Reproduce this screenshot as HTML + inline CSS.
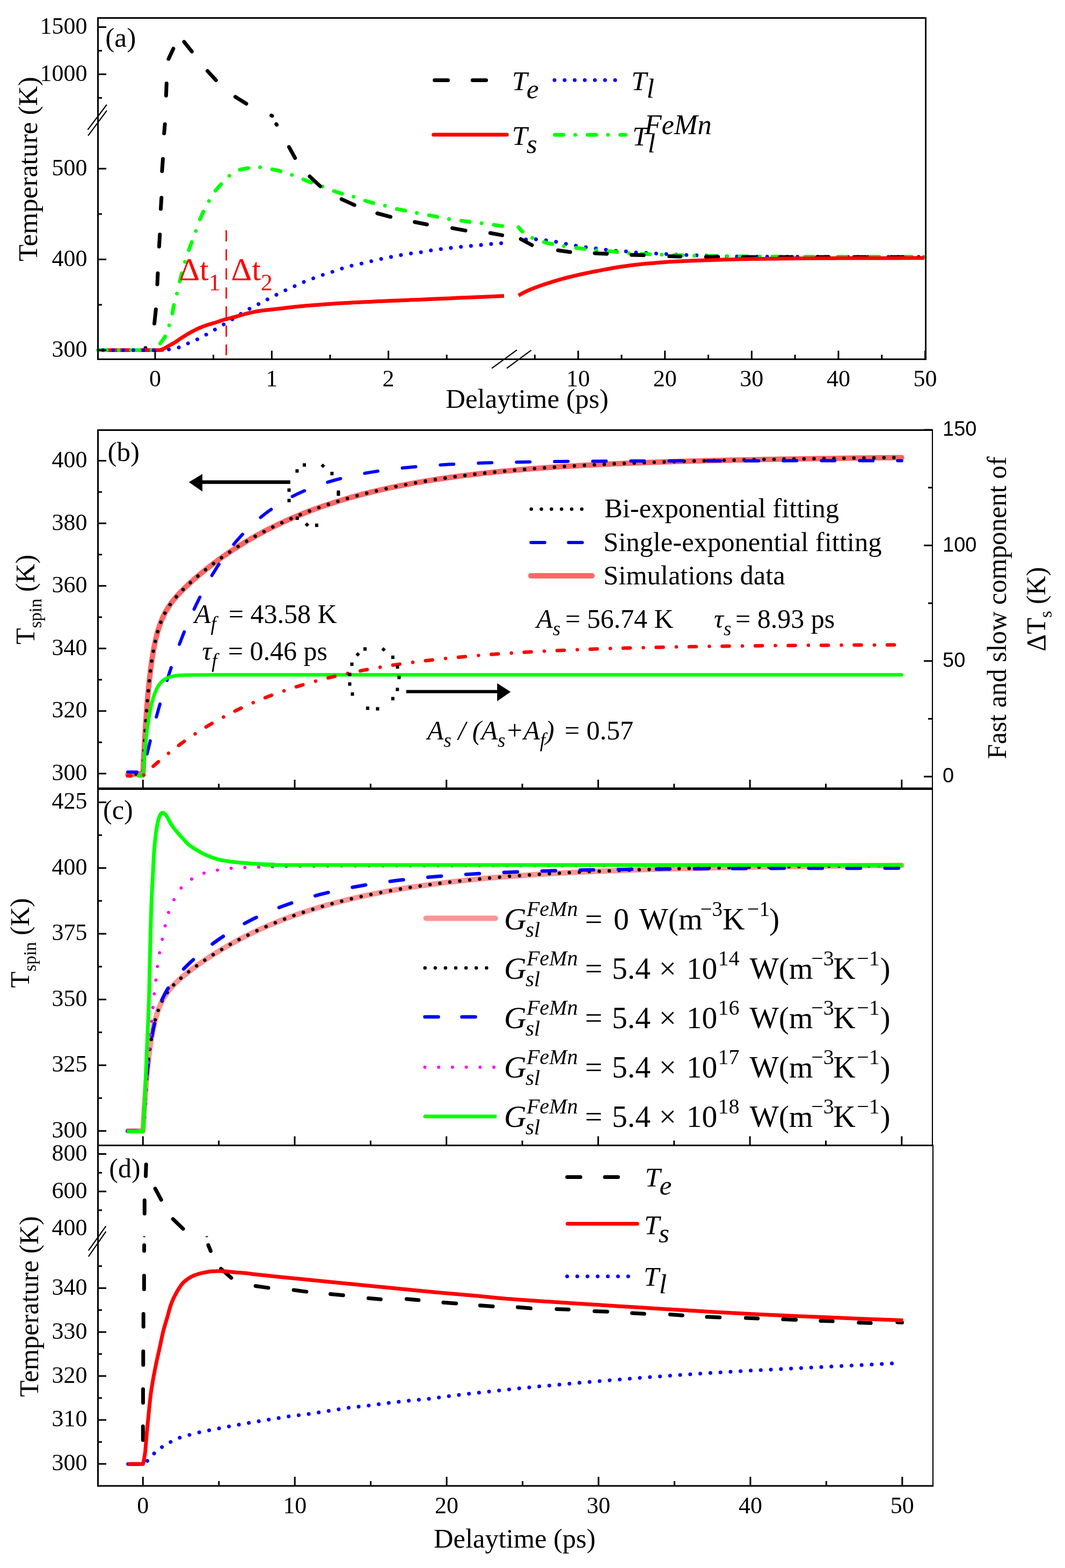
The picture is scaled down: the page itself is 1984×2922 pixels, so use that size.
<!DOCTYPE html>
<html><head><meta charset="utf-8"><title>Figure</title>
<style>html,body{margin:0;padding:0;background:#fff;}svg{display:block;}</style></head>
<body><svg width="1984" height="2922" viewBox="0 0 1984 2922">
<rect width="1984" height="2922" fill="#fff"/>
<polyline points="183,652.4 292,652.4 314,651.3 333,647.5 350,640 367,632.7 383.4,624 400.5,614.1 416.9,604.4 433,595 450,584 467,574.1 484,565.5 500.5,556.7 517.6,547.9 534.8,539.5 551.9,531.9 568.6,524.3 586.8,517.5 604.7,511 622.9,505.3 641.2,498.9 659.8,493.9 678.1,490.1 696.3,485.6 715,481.4 734.4,477.6 753,474.1 771,471.5 790.4,469.2 808.7,465.4 827.7,463.5 846.7,461.2 864.6,459.3 883.6,457.8 902.6,455.9 920.8,454 939,452.9" fill="none" stroke="#0000ff" stroke-width="7" stroke-linecap="round" stroke-linejoin="round" stroke-dasharray="0.01 18.8" stroke-dashoffset="0" />
<polyline points="966,447 976.7,446.4 995.7,445.6 1014.8,447.5 1033.8,450.2 1052,454 1069.9,457.4 1088.9,460.5 1107.1,462.7 1125,465 1144,467.3 1162.3,468.1 1180.2,470.3 1197.3,471.1 1216.3,472.2 1234.5,473 1253.2,474.1 1272.2,474.9 1290.4,475.7 1309.4,476 1327.3,476.8 1345.5,477.6 1400,478.2 1500,478.6 1722,478.8" fill="none" stroke="#0000ff" stroke-width="7" stroke-linecap="round" stroke-linejoin="round" stroke-dasharray="0.01 18.8" stroke-dashoffset="5" />
<polyline points="183,652.4 290,652.4 294.4,645.6 307,628.4 314.3,608.8 320.3,589.8 323.5,570.1 329,549.8 334,528 337.8,513 343,493 349.2,473 356.8,452.1 363.3,435 370.1,414 377.7,397 386.1,380.6 396.7,360.8 408.1,347.5 423.3,330.4 442.4,317.1 461.4,313.3 482.3,311.4 501.3,314.4 520.3,318.3 540.5,324.7 560.2,332.3 579.2,339.9 598.2,346.4 613.5,353.2 634.4,360.1 655.3,365.4 674.3,372.2 693.3,377.9 714.2,382.5 733.2,388.2 752.2,392 771.3,395.8 793.5,400 811.3,403.4 831.5,407.6 853.2,410.3 870.3,412.9 891.2,415.2 912.9,417.9 932.2,420.9 939,421.5" fill="none" stroke="#00ff00" stroke-width="7" stroke-linecap="round" stroke-linejoin="round" stroke-dasharray="16 22 0.01 23" stroke-dashoffset="0" />
<polyline points="966,423.5 970,428.5 981.7,438.8 1000.3,447.5 1020.5,453.2 1039.5,456.7 1060.4,460.5 1080.5,462.7 1098.4,465.4 1119.3,467.3 1140.2,468.6 1161.1,471.1 1179.4,472.6 1203,473.5 1220,474.1 1261.9,475.7 1279,476 1300.7,476.8 1341,477.2 1400,478 1500,478.4 1722,478.6" fill="none" stroke="#00ff00" stroke-width="7" stroke-linecap="round" stroke-linejoin="round" stroke-dasharray="16 22 0.01 23" stroke-dashoffset="5" />
<path d="M189.5 652.4L210.5 652.4M259.5 652.4L280.5 652.4" fill="none" stroke="#000" stroke-width="7" stroke-linecap="round"/>
<path d="M271 648.5L271 648.5M287.6 603L290.4 576.6M293 529.9L294 509.2M296.4 459.6L297.8 437M299.5 389.3L300.8 368.5M301.8 318.9L303.5 296.3M305.7 248.5L307.2 231.6M309.4 178.2L310.3 155.6M313.9 109.9L322.9 90.7M342.9 78L357.4 96.1M386.6 132.3L402.3 149.4M438.4 180.5L458.9 193.2M505.5 215.2L506.9 215.9M514.7 231.3L515.6 232.5M538.4 273.9L549.7 294.5M576.9 328.7L596.7 347.2M636.2 371.1L660.3 382.1M702.8 397.5L727.5 404.1M772.6 413.7L795.3 418.2M842.6 425.1L867.1 429.6M913.3 434.2L935.6 438.4M970.2 445.5L990.9 456.8M1039.6 466.5L1062.2 469.7M1108 472L1130.6 472.9M1176.4 475L1199.1 475.6M1246.8 477.6L1267.5 478M1315.2 478.7L1337.8 478.7M1384 479L1406 479M1453 479L1475 479M1522 479L1544 479M1591 479L1613 479M1660 479L1682 479" fill="none" stroke="#000" stroke-width="7" stroke-linecap="round"/>
<polyline points="183,652.4 204.9,652.4 236.9,652.5 269.1,652.5 291.8,652.4 301,652.3 302.3,652.2 300.4,652 300,651.6 301.8,651.1 303.4,650.4 305.1,649.6 307,648.7 309.1,647.6 311.3,646.3 313.6,644.9 316,643.5 318.3,642.2 320.7,641 323.2,639.7 326,638 329.2,635.9 332.7,633.5 336.3,630.9 340,628.5 343.7,626.2 347.4,623.9 351.2,621.6 355,619.5 358.8,617.4 362.5,615.5 366.2,613.6 370,611.8 373.8,610.2 377.5,608.7 381.2,607.3 385,606 388.6,604.8 392.2,603.8 395.9,602.7 400,601.5 404.7,600 409.8,598.2 415,596.5 420,595 424.5,593.8 428.8,592.8 433.2,591.7 438,590.5 443.5,589 449.4,587.2 455.4,585.5 461,584 466,582.8 470.7,581.8 475.3,580.8 480,580 484.9,579.3 489.9,578.6 495,578.1 500,577.5 504.5,577 508.8,576.5 513.6,575.9 520,575.2 528.6,574.2 538.8,573 549.5,571.8 560,570.7 570.1,569.8 580.2,569 590.3,568.2 600,567.5 609.1,566.8 617.8,566.2 626.5,565.6 636,565 646.7,564.4 658.2,563.8 669.7,563.3 680,562.8 688.5,562.4 695.8,562 703.2,561.6 712,561.2 723.1,560.7 735.5,560.2 748.2,559.7 760,559.2 770.3,558.8 779.9,558.4 789.5,558 800,557.5 811.8,557 824.4,556.4 837.3,555.9 850,555.3 862.8,554.8 875.7,554.2 888.3,553.7 900,553.2 911.4,552.7 922.6,552.2 932.2,551.8 939,551.5" fill="none" stroke="#ff0000" stroke-width="7" stroke-linecap="butt" stroke-linejoin="round" />
<polyline points="966,550.8 967.5,549.9 969.7,548.5 972.3,547 975,545.5 977.9,544.1 981,542.6 984.4,541.1 988,539.5 991.9,537.9 996,536.3 1000.4,534.7 1005,533 1009.9,531.3 1015.1,529.6 1020.4,527.9 1026,526.2 1031.6,524.4 1037.2,522.7 1043.3,520.9 1050,519 1057.8,517 1066.3,514.9 1075,512.8 1083,511 1090.1,509.5 1096.7,508.1 1103.2,506.8 1110,505.5 1117.3,504.1 1124.8,502.6 1132.4,501.2 1140,499.8 1147.6,498.5 1155.2,497.3 1162.7,496.2 1170,495.2 1176.9,494.3 1183.6,493.5 1190.2,492.7 1197,492 1203.9,491.3 1210.9,490.7 1217.9,490.2 1225,489.6 1231.8,489.1 1238.4,488.6 1245.5,488.1 1254,487.6 1264.2,487.1 1275.7,486.6 1287.8,486.1 1300,485.6 1312,485.1 1324.1,484.7 1336.6,484.2 1350,483.8 1363.9,483.4 1378.4,483.1 1393.9,482.8 1411,482.5 1429.9,482.2 1450.2,481.9 1472,481.7 1495,481.5 1519.4,481.3 1545.1,481.2 1572.1,481.1 1600,481 1632.2,480.9 1667.6,480.9 1699.7,480.8 1722,480.8" fill="none" stroke="#ff0000" stroke-width="7" stroke-linecap="butt" stroke-linejoin="round" />
<polyline points="183,652.4 290,652.4" fill="none" stroke="#00ff00" stroke-width="7" stroke-linecap="round" stroke-linejoin="round" stroke-dasharray="16 22 0.01 23" stroke-dashoffset="0" />
<polyline points="183,652.4 292,652.4" fill="none" stroke="#0000ff" stroke-width="7" stroke-linecap="round" stroke-linejoin="round" stroke-dasharray="0.01 18.8" stroke-dashoffset="-9" />
<line x1="421.5" y1="429" x2="421.5" y2="662" stroke="#ff0000" stroke-width="2.7" stroke-linecap="butt" stroke-dasharray="21 14.5" stroke-dashoffset="0"/>
<rect x="182.5" y="33.5" width="1542.0" height="636.0" fill="none" stroke="#000" stroke-width="3"/>
<line x1="182.5" y1="652.5" x2="198" y2="652.5" stroke="#000" stroke-width="3" stroke-linecap="butt" />
<line x1="182.5" y1="483.4" x2="198" y2="483.4" stroke="#000" stroke-width="3" stroke-linecap="butt" />
<line x1="182.5" y1="314.3" x2="198" y2="314.3" stroke="#000" stroke-width="3" stroke-linecap="butt" />
<line x1="182.5" y1="138.4" x2="198" y2="138.4" stroke="#000" stroke-width="3" stroke-linecap="butt" />
<line x1="182.5" y1="50.5" x2="198" y2="50.5" stroke="#000" stroke-width="3" stroke-linecap="butt" />
<line x1="182.5" y1="568" x2="190" y2="568" stroke="#000" stroke-width="3" stroke-linecap="butt" />
<line x1="182.5" y1="398.9" x2="190" y2="398.9" stroke="#000" stroke-width="3" stroke-linecap="butt" />
<line x1="182.5" y1="182.4" x2="190" y2="182.4" stroke="#000" stroke-width="3" stroke-linecap="butt" />
<line x1="182.5" y1="94.5" x2="190" y2="94.5" stroke="#000" stroke-width="3" stroke-linecap="butt" />
<line x1="289" y1="669.5" x2="289" y2="653.5" stroke="#000" stroke-width="3" stroke-linecap="butt" />
<line x1="506.3" y1="669.5" x2="506.3" y2="653.5" stroke="#000" stroke-width="3" stroke-linecap="butt" />
<line x1="723.6" y1="669.5" x2="723.6" y2="653.5" stroke="#000" stroke-width="3" stroke-linecap="butt" />
<line x1="1077.1" y1="669.5" x2="1077.1" y2="653.5" stroke="#000" stroke-width="3" stroke-linecap="butt" />
<line x1="1238.7" y1="669.5" x2="1238.7" y2="653.5" stroke="#000" stroke-width="3" stroke-linecap="butt" />
<line x1="1400.3" y1="669.5" x2="1400.3" y2="653.5" stroke="#000" stroke-width="3" stroke-linecap="butt" />
<line x1="1561.9" y1="669.5" x2="1561.9" y2="653.5" stroke="#000" stroke-width="3" stroke-linecap="butt" />
<line x1="1723.5" y1="669.5" x2="1723.5" y2="653.5" stroke="#000" stroke-width="3" stroke-linecap="butt" />
<line x1="397.6" y1="669.5" x2="397.6" y2="661" stroke="#000" stroke-width="3" stroke-linecap="butt" />
<line x1="615" y1="669.5" x2="615" y2="661" stroke="#000" stroke-width="3" stroke-linecap="butt" />
<line x1="832.2" y1="669.5" x2="832.2" y2="661" stroke="#000" stroke-width="3" stroke-linecap="butt" />
<line x1="996.3" y1="669.5" x2="996.3" y2="661" stroke="#000" stroke-width="3" stroke-linecap="butt" />
<line x1="1157.9" y1="669.5" x2="1157.9" y2="661" stroke="#000" stroke-width="3" stroke-linecap="butt" />
<line x1="1319.5" y1="669.5" x2="1319.5" y2="661" stroke="#000" stroke-width="3" stroke-linecap="butt" />
<line x1="1481.1" y1="669.5" x2="1481.1" y2="661" stroke="#000" stroke-width="3" stroke-linecap="butt" />
<line x1="1642.7" y1="669.5" x2="1642.7" y2="661" stroke="#000" stroke-width="3" stroke-linecap="butt" />
<line x1="916.1" y1="686.3" x2="963" y2="652.1" stroke="#000" stroke-width="2.2" stroke-linecap="butt" />
<line x1="944" y1="686.3" x2="989.6" y2="652.7" stroke="#000" stroke-width="2.2" stroke-linecap="butt" />
<line x1="163.4" y1="241.9" x2="198.9" y2="195" stroke="#000" stroke-width="2.2" stroke-linecap="butt" />
<line x1="164.1" y1="252.8" x2="198.9" y2="206.2" stroke="#000" stroke-width="2.2" stroke-linecap="butt" />
<text x="162.5" y="664.8" font-family="'Liberation Serif','Times New Roman',serif" font-size="44" text-anchor="end" fill="#000" >300</text>
<text x="162.5" y="495.7" font-family="'Liberation Serif','Times New Roman',serif" font-size="44" text-anchor="end" fill="#000" >400</text>
<text x="162.5" y="326.6" font-family="'Liberation Serif','Times New Roman',serif" font-size="44" text-anchor="end" fill="#000" >500</text>
<text x="162.5" y="150.7" font-family="'Liberation Serif','Times New Roman',serif" font-size="44" text-anchor="end" fill="#000" >1000</text>
<text x="162.5" y="62.8" font-family="'Liberation Serif','Times New Roman',serif" font-size="44" text-anchor="end" fill="#000" >1500</text>
<text x="289" y="720.3" font-family="'Liberation Serif','Times New Roman',serif" font-size="44" text-anchor="middle" fill="#000" >0</text>
<text x="506.3" y="720.3" font-family="'Liberation Serif','Times New Roman',serif" font-size="44" text-anchor="middle" fill="#000" >1</text>
<text x="723.6" y="720.3" font-family="'Liberation Serif','Times New Roman',serif" font-size="44" text-anchor="middle" fill="#000" >2</text>
<text x="1077.1" y="720.3" font-family="'Liberation Serif','Times New Roman',serif" font-size="44" text-anchor="middle" fill="#000" >10</text>
<text x="1238.7" y="720.3" font-family="'Liberation Serif','Times New Roman',serif" font-size="44" text-anchor="middle" fill="#000" >20</text>
<text x="1400.3" y="720.3" font-family="'Liberation Serif','Times New Roman',serif" font-size="44" text-anchor="middle" fill="#000" >30</text>
<text x="1561.9" y="720.3" font-family="'Liberation Serif','Times New Roman',serif" font-size="44" text-anchor="middle" fill="#000" >40</text>
<text x="1723.5" y="720.3" font-family="'Liberation Serif','Times New Roman',serif" font-size="44" text-anchor="middle" fill="#000" >50</text>
<text x="982" y="760" font-family="'Liberation Serif','Times New Roman',serif" font-size="50.8" text-anchor="middle" fill="#000" >Delaytime (ps)</text>
<text x="68.7" y="315" font-family="'Liberation Serif','Times New Roman',serif" font-size="51.5" text-anchor="middle" fill="#000" transform="rotate(-90 68.7 315)" >Temperature (K)</text>
<text x="196.2" y="87" font-family="'Liberation Serif','Times New Roman',serif" font-size="51.5" text-anchor="start" fill="#000" >(a)</text>
<text x="333.5" y="522.4" font-family="'Liberation Serif','Times New Roman',serif" font-size="60" fill="#ff0000">Δt<tspan font-size="44" dy="19">1</tspan></text>
<text x="430.6" y="522.4" font-family="'Liberation Serif','Times New Roman',serif" font-size="60" fill="#ff0000">Δt<tspan font-size="44" dy="19">2</tspan></text>
<path d="M809.6 149.4L834.5 149.4M880.3 149.4L905.6 149.4" fill="none" stroke="#000" stroke-width="7" stroke-linecap="round"/>
<polyline points="1033,149.3 1147.5,149.3" fill="none" stroke="#0000ff" stroke-width="7" stroke-linecap="round" stroke-linejoin="round" stroke-dasharray="0.01 18.8" stroke-dashoffset="0" />
<polyline points="807.6,250.9 944.3,250.9" fill="none" stroke="#ff0000" stroke-width="7" stroke-linecap="round" stroke-linejoin="round" />
<polyline points="1033.6,251.3 1165.3,251.3" fill="none" stroke="#00ff00" stroke-width="7" stroke-linecap="round" stroke-linejoin="round" stroke-dasharray="16 22 0.01 23" stroke-dashoffset="0" />
<text x="953.8" y="167.9" font-family="'Liberation Serif','Times New Roman',serif" font-size="51.5" font-style="italic">T<tspan dx="3" dy="15">e</tspan></text>
<text x="1175.9" y="167.9" font-family="'Liberation Serif','Times New Roman',serif" font-size="51.5" font-style="italic">T<tspan dx="0" dy="13.6">l</tspan></text>
<text x="953.8" y="270.2" font-family="'Liberation Serif','Times New Roman',serif" font-size="51.5" font-style="italic">T<tspan dx="3" dy="15">s</tspan></text>
<text x="1178" y="270.8" font-family="'Liberation Serif','Times New Roman',serif" font-size="51.5" font-style="italic">T<tspan dx="0" dy="13.6">l</tspan></text>
<text x="1200.5" y="249.9" font-family="'Liberation Serif','Times New Roman',serif" font-size="52.5" text-anchor="start" fill="#000" font-style="italic" >FeMn</text>
<polyline points="238,1443.3 238.6,1443.3 239.2,1443.3 239.7,1443.2 240.3,1443.2 240.9,1443.2 241.4,1443.1 242,1443.1 242.6,1443.1 243.1,1443 243.7,1443 244.2,1443 244.8,1442.9 245.4,1442.9 245.9,1442.9 246.5,1442.8 247.1,1442.8 247.6,1442.8 248.2,1442.7 248.8,1442.7 249.3,1442.6 249.9,1442.6 250.5,1442.6 251,1442.5 251.6,1442.5 252.2,1442.5 252.7,1442.4 253.3,1442.4 253.9,1442.4 254.4,1442.3 255,1442.3 255.6,1442.3 256.1,1442.2 256.7,1442.2 257.3,1442.2 257.8,1442.1 258.4,1442.1 258.9,1442.1 259.5,1442 260.1,1442 260.6,1441.9 261.2,1441.9 261.8,1441.9 262.3,1441.8 262.9,1441.8 263.5,1441.8 264,1441.7 264.6,1441.7 265.2,1441.7 265.7,1441.6 266.3,1441.6 266.9,1429.5 267.4,1417.8 268,1406.6 268.6,1396 269.1,1385.7 269.7,1375.9 270.3,1366.4 270.8,1357.4 271.4,1348.7 272,1340.4 272.5,1332.4 273.1,1324.7 273.7,1317.3 274.2,1310.3 274.8,1303.5 275.3,1297 275.9,1290.7 276.5,1284.7 277,1278.9 277.6,1273.3 278.2,1268 278.7,1262.8 279.3,1257.9 279.9,1253.1 280.4,1248.5 281,1244.1 281.6,1239.9 282.1,1235.8 282.7,1231.8 283.3,1228 283.8,1224.4 284.4,1220.8 285,1217.4 285.5,1214.1 286.1,1211 286.7,1207.9 287.2,1205 287.8,1202.1 288.4,1199.4 288.9,1196.7 289.5,1194.1 290,1191.6 290.6,1189.2 291.2,1186.9 291.7,1184.6 292.3,1182.5 292.9,1180.3 293.4,1178.3 294,1176.3 294.6,1174.4 295.1,1172.5 295.7,1170.7 296.3,1168.9 296.8,1167.2 297.4,1165.5 298,1163.9 298.5,1162.3 299.1,1160.8 299.7,1159.3 300.2,1157.8 300.8,1156.4 301.4,1155 301.9,1153.7 302.5,1152.4 303.1,1151.1 303.6,1149.8 304.2,1148.6 304.7,1147.4 305.3,1146.2 305.9,1145.1 306.4,1144 307,1142.9 307.6,1141.8 308.1,1140.8 308.7,1139.7 309.3,1138.7 309.8,1137.7 310.4,1136.8 311,1135.8 311.5,1134.9 312.1,1133.9 312.7,1133 313.2,1132.1 313.8,1131.3 314.4,1130.4 314.9,1129.5 315.5,1128.7 316.1,1127.9 316.6,1127.1 317.2,1126.2 317.8,1125.5 318.3,1124.7 318.9,1123.9 319.4,1123.1 320,1122.4 320.6,1121.6 321.1,1120.9 321.7,1120.2 322.3,1119.5 322.8,1118.7 323.4,1118 324,1117.3 324.5,1116.7 325.1,1116 325.7,1115.3 326.2,1114.6 326.8,1114 327.4,1113.3 327.9,1112.6 328.5,1112 329.1,1111.4 329.6,1110.7 330.2,1110.1 330.8,1109.5 331.3,1108.8 331.9,1108.2 332.5,1107.6 333,1107 333.6,1106.4 334.1,1105.8 334.7,1105.2 335.3,1104.6 335.8,1104 336.4,1103.4 337,1102.8 337.5,1102.2 338.1,1101.7 338.7,1101.1 339.2,1100.5 339.8,1099.9 340.4,1099.4 340.9,1098.8 341.5,1098.2 342.1,1097.7 342.6,1097.1 343.2,1096.6 343.8,1096 344.3,1095.5 344.9,1094.9 345.5,1094.4 346,1093.8 346.6,1093.3 347.2,1092.7 347.7,1092.2 348.3,1091.7 348.8,1091.1 349.4,1090.6 350,1090.1 350.5,1089.6 351.1,1089 353.9,1086.4 356.8,1083.9 359.6,1081.3 362.4,1078.9 365.2,1076.4 368.1,1074 370.9,1071.6 373.7,1069.2 376.6,1066.9 379.4,1064.6 382.2,1062.3 385,1060 387.9,1057.8 390.7,1055.6 393.5,1053.4 396.3,1051.3 399.2,1049.1 402,1047 404.8,1044.9 407.6,1042.9 410.5,1040.8 413.3,1038.8 416.1,1036.8 419,1034.8 421.8,1032.9 424.6,1030.9 427.4,1029 430.3,1027.1 433.1,1025.2 435.9,1023.4 438.7,1021.6 441.6,1019.7 444.4,1017.9 447.2,1016.2 450.1,1014.4 452.9,1012.7 455.7,1010.9 458.5,1009.2 461.4,1007.6 464.2,1005.9 467,1004.2 469.8,1002.6 472.7,1001 475.5,999.4 478.3,997.8 481.2,996.3 484,994.7 486.8,993.2 489.6,991.7 492.5,990.2 495.3,988.7 498.1,987.2 500.9,985.8 503.8,984.4 506.6,982.9 509.4,981.5 512.2,980.2 515.1,978.8 517.9,977.4 520.7,976.1 523.6,974.8 526.4,973.5 529.2,972.2 532,970.9 534.9,969.6 537.7,968.3 540.5,967.1 543.3,965.9 546.2,964.7 549,963.5 551.8,962.3 566,956.5 580.1,951 594.2,945.9 608.4,941 622.5,936.4 636.6,932 650.8,927.8 664.9,923.9 679,920.2 693.2,916.6 707.3,913.3 721.4,910.1 735.6,907.1 749.7,904.3 763.9,901.6 778,899.1 792.1,896.7 806.3,894.4 820.4,892.2 834.5,890.2 848.7,888.2 862.8,886.4 876.9,884.7 891.1,883 905.2,881.4 919.3,880 933.5,878.5 947.6,877.2 961.7,876 975.9,874.8 990,873.6 1004.1,872.5 1018.3,871.5 1032.4,870.5 1046.6,869.6 1060.7,868.7 1074.8,867.9 1089,867.1 1103.1,866.4 1117.2,865.6 1131.4,865 1145.5,864.3 1159.6,863.7 1173.8,863.1 1187.9,862.6 1202,862 1216.2,861.5 1230.3,861 1244.4,860.6 1258.6,860.1 1272.7,859.7 1286.8,859.3 1301,858.9 1315.1,858.6 1329.3,858.2 1343.4,857.9 1357.5,857.6 1371.7,857.3 1385.8,857 1399.9,856.7 1414.1,856.4 1428.2,856.1 1442.3,855.9 1456.5,855.6 1470.6,855.4 1484.7,855.2 1498.9,855 1513,854.8 1527.1,854.6 1541.3,854.4 1555.4,854.2 1569.5,854 1583.7,853.8 1597.8,853.6 1612,853.5 1626.1,853.3 1640.2,853.1 1654.4,853 1668.5,852.8 1679.8,852.7" fill="none" stroke="#ff6666" stroke-width="10" stroke-linecap="round" stroke-linejoin="round" />
<polyline points="238,1443.3 238.6,1443.3 239.2,1443.3 239.7,1443.2 240.3,1443.2 240.9,1443.2 241.4,1443.1 242,1443.1 242.6,1443.1 243.1,1443 243.7,1443 244.2,1443 244.8,1442.9 245.4,1442.9 245.9,1442.9 246.5,1442.8 247.1,1442.8 247.6,1442.8 248.2,1442.7 248.8,1442.7 249.3,1442.6 249.9,1442.6 250.5,1442.6 251,1442.5 251.6,1442.5 252.2,1442.5 252.7,1442.4 253.3,1442.4 253.9,1442.4 254.4,1442.3 255,1442.3 255.6,1442.3 256.1,1442.2 256.7,1442.2 257.3,1442.2 257.8,1442.1 258.4,1442.1 258.9,1442.1 259.5,1442 260.1,1442 260.6,1441.9 261.2,1441.9 261.8,1441.9 262.3,1441.8 262.9,1441.8 263.5,1441.8 264,1441.7 264.6,1441.7 265.2,1441.7 265.7,1441.6 266.3,1441.6 266.9,1429.5 267.4,1417.8 268,1406.6 268.6,1396 269.1,1385.7 269.7,1375.9 270.3,1366.4 270.8,1357.4 271.4,1348.7 272,1340.4 272.5,1332.4 273.1,1324.7 273.7,1317.3 274.2,1310.3 274.8,1303.5 275.3,1297 275.9,1290.7 276.5,1284.7 277,1278.9 277.6,1273.3 278.2,1268 278.7,1262.8 279.3,1257.9 279.9,1253.1 280.4,1248.5 281,1244.1 281.6,1239.9 282.1,1235.8 282.7,1231.8 283.3,1228 283.8,1224.4 284.4,1220.8 285,1217.4 285.5,1214.1 286.1,1211 286.7,1207.9 287.2,1205 287.8,1202.1 288.4,1199.4 288.9,1196.7 289.5,1194.1 290,1191.6 290.6,1189.2 291.2,1186.9 291.7,1184.6 292.3,1182.5 292.9,1180.3 293.4,1178.3 294,1176.3 294.6,1174.4 295.1,1172.5 295.7,1170.7 296.3,1168.9 296.8,1167.2 297.4,1165.5 298,1163.9 298.5,1162.3 299.1,1160.8 299.7,1159.3 300.2,1157.8 300.8,1156.4 301.4,1155 301.9,1153.7 302.5,1152.4 303.1,1151.1 303.6,1149.8 304.2,1148.6 304.7,1147.4 305.3,1146.2 305.9,1145.1 306.4,1144 307,1142.9 307.6,1141.8 308.1,1140.8 308.7,1139.7 309.3,1138.7 309.8,1137.7 310.4,1136.8 311,1135.8 311.5,1134.9 312.1,1133.9 312.7,1133 313.2,1132.1 313.8,1131.3 314.4,1130.4 314.9,1129.5 315.5,1128.7 316.1,1127.9 316.6,1127.1 317.2,1126.2 317.8,1125.5 318.3,1124.7 318.9,1123.9 319.4,1123.1 320,1122.4 320.6,1121.6 321.1,1120.9 321.7,1120.2 322.3,1119.5 322.8,1118.7 323.4,1118 324,1117.3 324.5,1116.7 325.1,1116 325.7,1115.3 326.2,1114.6 326.8,1114 327.4,1113.3 327.9,1112.6 328.5,1112 329.1,1111.4 329.6,1110.7 330.2,1110.1 330.8,1109.5 331.3,1108.8 331.9,1108.2 332.5,1107.6 333,1107 333.6,1106.4 334.1,1105.8 334.7,1105.2 335.3,1104.6 335.8,1104 336.4,1103.4 337,1102.8 337.5,1102.2 338.1,1101.7 338.7,1101.1 339.2,1100.5 339.8,1099.9 340.4,1099.4 340.9,1098.8 341.5,1098.2 342.1,1097.7 342.6,1097.1 343.2,1096.6 343.8,1096 344.3,1095.5 344.9,1094.9 345.5,1094.4 346,1093.8 346.6,1093.3 347.2,1092.7 347.7,1092.2 348.3,1091.7 348.8,1091.1 349.4,1090.6 350,1090.1 350.5,1089.6 351.1,1089 353.9,1086.4 356.8,1083.9 359.6,1081.3 362.4,1078.9 365.2,1076.4 368.1,1074 370.9,1071.6 373.7,1069.2 376.6,1066.9 379.4,1064.6 382.2,1062.3 385,1060 387.9,1057.8 390.7,1055.6 393.5,1053.4 396.3,1051.3 399.2,1049.1 402,1047 404.8,1044.9 407.6,1042.9 410.5,1040.8 413.3,1038.8 416.1,1036.8 419,1034.8 421.8,1032.9 424.6,1030.9 427.4,1029 430.3,1027.1 433.1,1025.2 435.9,1023.4 438.7,1021.6 441.6,1019.7 444.4,1017.9 447.2,1016.2 450.1,1014.4 452.9,1012.7 455.7,1010.9 458.5,1009.2 461.4,1007.6 464.2,1005.9 467,1004.2 469.8,1002.6 472.7,1001 475.5,999.4 478.3,997.8 481.2,996.3 484,994.7 486.8,993.2 489.6,991.7 492.5,990.2 495.3,988.7 498.1,987.2 500.9,985.8 503.8,984.4 506.6,982.9 509.4,981.5 512.2,980.2 515.1,978.8 517.9,977.4 520.7,976.1 523.6,974.8 526.4,973.5 529.2,972.2 532,970.9 534.9,969.6 537.7,968.3 540.5,967.1 543.3,965.9 546.2,964.7 549,963.5 551.8,962.3 566,956.5 580.1,951 594.2,945.9 608.4,941 622.5,936.4 636.6,932 650.8,927.8 664.9,923.9 679,920.2 693.2,916.6 707.3,913.3 721.4,910.1 735.6,907.1 749.7,904.3 763.9,901.6 778,899.1 792.1,896.7 806.3,894.4 820.4,892.2 834.5,890.2 848.7,888.2 862.8,886.4 876.9,884.7 891.1,883 905.2,881.4 919.3,880 933.5,878.5 947.6,877.2 961.7,876 975.9,874.8 990,873.6 1004.1,872.5 1018.3,871.5 1032.4,870.5 1046.6,869.6 1060.7,868.7 1074.8,867.9 1089,867.1 1103.1,866.4 1117.2,865.6 1131.4,865 1145.5,864.3 1159.6,863.7 1173.8,863.1 1187.9,862.6 1202,862 1216.2,861.5 1230.3,861 1244.4,860.6 1258.6,860.1 1272.7,859.7 1286.8,859.3 1301,858.9 1315.1,858.6 1329.3,858.2 1343.4,857.9 1357.5,857.6 1371.7,857.3 1385.8,857 1399.9,856.7 1414.1,856.4 1428.2,856.1 1442.3,855.9 1456.5,855.6 1470.6,855.4 1484.7,855.2 1498.9,855 1513,854.8 1527.1,854.6 1541.3,854.4 1555.4,854.2 1569.5,854 1583.7,853.8 1597.8,853.6 1612,853.5 1626.1,853.3 1640.2,853.1 1654.4,853 1668.5,852.8 1679.8,852.7" fill="none" stroke="#000" stroke-width="6.5" stroke-linecap="round" stroke-linejoin="round" stroke-dasharray="0.01 18.6" stroke-dashoffset="3" />
<polyline points="238,1438.7 238.6,1438.7 239.2,1438.7 239.7,1438.7 240.3,1438.7 240.9,1438.7 241.4,1438.7 242,1438.7 242.6,1438.7 243.1,1438.7 243.7,1438.7 244.2,1438.7 244.8,1438.7 245.4,1438.7 245.9,1438.7 246.5,1438.7 247.1,1438.7 247.6,1438.7 248.2,1438.7 248.8,1438.7 249.3,1438.7 249.9,1438.7 250.5,1438.7 251,1438.7 251.6,1438.7 252.2,1438.7 252.7,1438.7 253.3,1438.7 253.9,1438.7 254.4,1438.7 255,1438.7 255.6,1438.7 256.1,1438.7 256.7,1438.7 257.3,1438.7 257.8,1438.7 258.4,1438.7 258.9,1438.7 259.5,1438.7 260.1,1438.7 260.6,1438.7 261.2,1438.7 261.8,1438.7 262.3,1438.7 262.9,1438.7 263.5,1438.7 264,1438.7 264.6,1438.7 265.2,1438.7 265.7,1438.7 266.3,1438.7 266.9,1436.1 267.4,1433.6 268,1431.1 268.6,1428.6 269.1,1426.1 269.7,1423.6 270.3,1421.1 270.8,1418.6 271.4,1416.2 272,1413.7 272.5,1411.3 273.1,1408.9 273.7,1406.5 274.2,1404.1 274.8,1401.7 275.3,1399.3 275.9,1396.9 276.5,1394.6 277,1392.2 277.6,1389.9 278.2,1387.5 278.7,1385.2 279.3,1382.9 279.9,1380.6 280.4,1378.3 281,1376 281.6,1373.8 282.1,1371.5 282.7,1369.3 283.3,1367 283.8,1364.8 284.4,1362.6 285,1360.4 285.5,1358.2 286.1,1356 286.7,1353.8 287.2,1351.6 287.8,1349.5 288.4,1347.3 288.9,1345.2 289.5,1343 290,1340.9 290.6,1338.8 291.2,1336.7 291.7,1334.6 292.3,1332.5 292.9,1330.4 293.4,1328.3 294,1326.3 294.6,1324.2 295.1,1322.2 295.7,1320.2 296.3,1318.1 296.8,1316.1 297.4,1314.1 298,1312.1 298.5,1310.1 299.1,1308.1 299.7,1306.2 300.2,1304.2 300.8,1302.3 301.4,1300.3 301.9,1298.4 302.5,1296.4 303.1,1294.5 303.6,1292.6 304.2,1290.7 304.7,1288.8 305.3,1286.9 305.9,1285 306.4,1283.2 307,1281.3 307.6,1279.5 308.1,1277.6 308.7,1275.8 309.3,1273.9 309.8,1272.1 310.4,1270.3 311,1268.5 311.5,1266.7 312.1,1264.9 312.7,1263.1 313.2,1261.4 313.8,1259.6 314.4,1257.8 314.9,1256.1 315.5,1254.3 316.1,1252.6 316.6,1250.9 317.2,1249.2 317.8,1247.4 318.3,1245.7 318.9,1244 319.4,1242.3 320,1240.7 320.6,1239 321.1,1237.3 321.7,1235.7 322.3,1234 322.8,1232.4 323.4,1230.7 324,1229.1 324.5,1227.5 325.1,1225.8 325.7,1224.2 326.2,1222.6 326.8,1221 327.4,1219.4 327.9,1217.9 328.5,1216.3 329.1,1214.7 329.6,1213.2 330.2,1211.6 330.8,1210.1 331.3,1208.5 331.9,1207 332.5,1205.4 333,1203.9 333.6,1202.4 334.1,1200.9 334.7,1199.4 335.3,1197.9 335.8,1196.4 336.4,1194.9 337,1193.5 337.5,1192 338.1,1190.5 338.7,1189.1 339.2,1187.6 339.8,1186.2 340.4,1184.7 340.9,1183.3 341.5,1181.9 342.1,1180.5 342.6,1179.1 343.2,1177.7 343.8,1176.3 344.3,1174.9 344.9,1173.5 345.5,1172.1 346,1170.7 346.6,1169.4 347.2,1168 347.7,1166.6 348.3,1165.3 348.8,1163.9 349.4,1162.6 350,1161.3 350.5,1159.9 351.1,1158.6 353.9,1152.1 356.8,1145.7 359.6,1139.5 362.4,1133.4 365.2,1127.4 368.1,1121.6 370.9,1115.8 373.7,1110.2 376.6,1104.8 379.4,1099.4 382.2,1094.2 385,1089.1 387.9,1084.1 390.7,1079.2 393.5,1074.4 396.3,1069.7 399.2,1065.1 402,1060.6 404.8,1056.2 407.6,1051.9 410.5,1047.7 413.3,1043.6 416.1,1039.6 419,1035.6 421.8,1031.8 424.6,1028 427.4,1024.3 430.3,1020.7 433.1,1017.2 435.9,1013.8 438.7,1010.4 441.6,1007.1 444.4,1003.9 447.2,1000.7 450.1,997.6 452.9,994.6 455.7,991.6 458.5,988.7 461.4,985.9 464.2,983.2 467,980.4 469.8,977.8 472.7,975.2 475.5,972.7 478.3,970.2 481.2,967.8 484,965.4 486.8,963.1 489.6,960.8 492.5,958.6 495.3,956.4 498.1,954.3 500.9,952.2 503.8,950.2 506.6,948.2 509.4,946.2 512.2,944.3 515.1,942.5 517.9,940.6 520.7,938.9 523.6,937.1 526.4,935.4 529.2,933.7 532,932.1 534.9,930.5 537.7,928.9 540.5,927.4 543.3,925.9 546.2,924.4 549,923 551.8,921.6 566,915.1 580.1,909.2 594.2,903.9 608.4,899.2 622.5,895 636.6,891.2 650.8,887.8 664.9,884.8 679,882 693.2,879.6 707.3,877.4 721.4,875.5 735.6,873.7 749.7,872.1 763.9,870.7 778,869.5 792.1,868.3 806.3,867.3 820.4,866.4 834.5,865.6 848.7,864.9 862.8,864.2 876.9,863.6 891.1,863.1 905.2,862.6 919.3,862.2 933.5,861.8 947.6,861.5 961.7,861.2 975.9,860.9 990,860.7 1004.1,860.5 1018.3,860.3 1032.4,860.1 1046.6,859.9 1060.7,859.8 1074.8,859.7 1089,859.6 1103.1,859.5 1117.2,859.4 1131.4,859.3 1145.5,859.2 1159.6,859.2 1173.8,859.1 1187.9,859 1202,859 1216.2,859 1230.3,858.9 1244.4,858.9 1258.6,858.9 1272.7,858.8 1286.8,858.8 1301,858.8 1315.1,858.8 1329.3,858.7 1343.4,858.7 1357.5,858.7 1371.7,858.7 1385.8,858.7 1399.9,858.7 1414.1,858.7 1428.2,858.7 1442.3,858.7 1456.5,858.7 1470.6,858.6 1484.7,858.6 1498.9,858.6 1513,858.6 1527.1,858.6 1541.3,858.6 1555.4,858.6 1569.5,858.6 1583.7,858.6 1597.8,858.6 1612,858.6 1626.1,858.6 1640.2,858.6 1654.4,858.6 1668.5,858.6 1679.8,858.6" fill="none" stroke="#0000ff" stroke-width="6" stroke-linecap="round" stroke-linejoin="round" stroke-dasharray="25 46" stroke-dashoffset="8" />
<polyline points="257.8,1445.9 258.4,1445.9 258.9,1445.9 259.5,1445.9 260.1,1445.9 260.6,1445.9 261.2,1445.9 261.8,1445.9 262.3,1445.9 262.9,1445.9 263.5,1445.9 264,1445.9 264.6,1445.9 265.2,1445.9 265.7,1445.9 266.3,1445.9 266.9,1437.9 267.4,1430.2 268,1422.9 268.6,1415.8 269.1,1409.1 269.7,1402.7 270.3,1396.5 270.8,1390.6 271.4,1384.9 272,1379.5 272.5,1374.3 273.1,1369.4 273.7,1364.6 274.2,1360.1 274.8,1355.7 275.3,1351.5 275.9,1347.5 276.5,1343.7 277,1340 277.6,1336.5 278.2,1333.2 278.7,1330 279.3,1326.9 279.9,1323.9 280.4,1321.1 281,1318.4 281.6,1315.8 282.1,1313.4 282.7,1311 283.3,1308.7 283.8,1306.5 284.4,1304.5 285,1302.5 285.5,1300.6 286.1,1298.7 286.7,1297 287.2,1295.3 287.8,1293.7 288.4,1292.2 288.9,1290.7 289.5,1289.3 290,1288 290.6,1286.7 291.2,1285.4 291.7,1284.2 292.3,1283.1 292.9,1282 293.4,1281 294,1280 294.6,1279 295.1,1278.1 295.7,1277.3 296.3,1276.4 296.8,1275.6 297.4,1274.9 298,1274.1 298.5,1273.4 299.1,1272.8 299.7,1272.1 300.2,1271.5 300.8,1270.9 301.4,1270.3 301.9,1269.8 302.5,1269.3 303.1,1268.8 303.6,1268.3 304.2,1267.9 304.7,1267.4 305.3,1267 305.9,1266.6 306.4,1266.2 307,1265.9 307.6,1265.5 308.1,1265.2 308.7,1264.9 309.3,1264.5 309.8,1264.3 310.4,1264 311,1263.7 311.5,1263.4 312.1,1263.2 312.7,1263 313.2,1262.7 313.8,1262.5 314.4,1262.3 314.9,1262.1 315.5,1261.9 316.1,1261.7 316.6,1261.6 317.2,1261.4 317.8,1261.2 318.3,1261.1 318.9,1260.9 319.4,1260.8 320,1260.7 320.6,1260.5 321.1,1260.4 321.7,1260.3 322.3,1260.2 322.8,1260.1 323.4,1260 324,1259.9 324.5,1259.8 325.1,1259.7 325.7,1259.6 326.2,1259.5 326.8,1259.4 327.4,1259.4 327.9,1259.3 328.5,1259.2 329.1,1259.1 329.6,1259.1 330.2,1259 330.8,1259 331.3,1258.9 331.9,1258.8 332.5,1258.8 333,1258.7 333.6,1258.7 334.1,1258.7 334.7,1258.6 335.3,1258.6 335.8,1258.5 336.4,1258.5 337,1258.5 337.5,1258.4 338.1,1258.4 338.7,1258.4 339.2,1258.3 339.8,1258.3 340.4,1258.3 340.9,1258.2 341.5,1258.2 342.1,1258.2 342.6,1258.2 343.2,1258.1 343.8,1258.1 344.3,1258.1 344.9,1258.1 345.5,1258.1 346,1258 346.6,1258 347.2,1258 347.7,1258 348.3,1258 348.8,1258 349.4,1257.9 350,1257.9 350.5,1257.9 351.1,1257.9 353.9,1257.9 356.8,1257.8 359.6,1257.8 362.4,1257.8 365.2,1257.7 368.1,1257.7 370.9,1257.7 373.7,1257.7 376.6,1257.7 379.4,1257.7 382.2,1257.7 385,1257.7 387.9,1257.7 390.7,1257.6 393.5,1257.6 396.3,1257.6 399.2,1257.6 402,1257.6 404.8,1257.6 407.6,1257.6 410.5,1257.6 413.3,1257.6 416.1,1257.6 419,1257.6 421.8,1257.6 424.6,1257.6 427.4,1257.6 430.3,1257.6 433.1,1257.6 435.9,1257.6 438.7,1257.6 441.6,1257.6 444.4,1257.6 447.2,1257.6 450.1,1257.6 452.9,1257.6 455.7,1257.6 458.5,1257.6 461.4,1257.6 464.2,1257.6 467,1257.6 469.8,1257.6 472.7,1257.6 475.5,1257.6 478.3,1257.6 481.2,1257.6 484,1257.6 486.8,1257.6 489.6,1257.6 492.5,1257.6 495.3,1257.6 498.1,1257.6 500.9,1257.6 503.8,1257.6 506.6,1257.6 509.4,1257.6 512.2,1257.6 515.1,1257.6 517.9,1257.6 520.7,1257.6 523.6,1257.6 526.4,1257.6 529.2,1257.6 532,1257.6 534.9,1257.6 537.7,1257.6 540.5,1257.6 543.3,1257.6 546.2,1257.6 549,1257.6 551.8,1257.6 566,1257.6 580.1,1257.6 594.2,1257.6 608.4,1257.6 622.5,1257.6 636.6,1257.6 650.8,1257.6 664.9,1257.6 679,1257.6 693.2,1257.6 707.3,1257.6 721.4,1257.6 735.6,1257.6 749.7,1257.6 763.9,1257.6 778,1257.6 792.1,1257.6 806.3,1257.6 820.4,1257.6 834.5,1257.6 848.7,1257.6 862.8,1257.6 876.9,1257.6 891.1,1257.6 905.2,1257.6 919.3,1257.6 933.5,1257.6 947.6,1257.6 961.7,1257.6 975.9,1257.6 990,1257.6 1004.1,1257.6 1018.3,1257.6 1032.4,1257.6 1046.6,1257.6 1060.7,1257.6 1074.8,1257.6 1089,1257.6 1103.1,1257.6 1117.2,1257.6 1131.4,1257.6 1145.5,1257.6 1159.6,1257.6 1173.8,1257.6 1187.9,1257.6 1202,1257.6 1216.2,1257.6 1230.3,1257.6 1244.4,1257.6 1258.6,1257.6 1272.7,1257.6 1286.8,1257.6 1301,1257.6 1315.1,1257.6 1329.3,1257.6 1343.4,1257.6 1357.5,1257.6 1371.7,1257.6 1385.8,1257.6 1399.9,1257.6 1414.1,1257.6 1428.2,1257.6 1442.3,1257.6 1456.5,1257.6 1470.6,1257.6 1484.7,1257.6 1498.9,1257.6 1513,1257.6 1527.1,1257.6 1541.3,1257.6 1555.4,1257.6 1569.5,1257.6 1583.7,1257.6 1597.8,1257.6 1612,1257.6 1626.1,1257.6 1640.2,1257.6 1654.4,1257.6 1668.5,1257.6 1679.8,1257.6" fill="none" stroke="#00ff00" stroke-width="6.5" stroke-linecap="round" stroke-linejoin="round" />
<polyline points="238,1445.9 238.6,1445.9 239.2,1445.9 239.7,1445.9 240.3,1445.9 240.9,1445.9 241.4,1445.9 242,1445.9 242.6,1445.9 243.1,1445.9 243.7,1445.9 244.2,1445.9 244.8,1445.9 245.4,1445.9 245.9,1445.9 246.5,1445.9 247.1,1445.9 247.6,1445.9 248.2,1445.9 248.8,1445.9 249.3,1445.9 249.9,1445.9 250.5,1445.9 251,1445.9 251.6,1445.9 252.2,1445.9 252.7,1445.9 253.3,1445.9 253.9,1445.9 254.4,1445.9 255,1445.9 255.6,1445.9 256.1,1445.9 256.7,1445.9 257.3,1445.9 257.8,1445.9 258.4,1445.9 258.9,1445.9 259.5,1445.9 260.1,1445.9 260.6,1445.9 261.2,1445.9 261.8,1445.9 262.3,1445.9 262.9,1445.9 263.5,1445.9 264,1445.9 264.6,1445.9 265.2,1445.9 265.7,1445.9 266.3,1445.9 266.9,1445.4 267.4,1444.8 268,1444.3 268.6,1443.7 269.1,1443.2 269.7,1442.6 270.3,1442.1 270.8,1441.5 271.4,1441 272,1440.5 272.5,1439.9 273.1,1439.4 273.7,1438.9 274.2,1438.3 274.8,1437.8 275.3,1437.3 275.9,1436.7 276.5,1436.2 277,1435.7 277.6,1435.2 278.2,1434.6 278.7,1434.1 279.3,1433.6 279.9,1433.1 280.4,1432.6 281,1432 281.6,1431.5 282.1,1431 282.7,1430.5 283.3,1430 283.8,1429.5 284.4,1428.9 285,1428.4 285.5,1427.9 286.1,1427.4 286.7,1426.9 287.2,1426.4 287.8,1425.9 288.4,1425.4 288.9,1424.9 289.5,1424.4 290,1423.9 290.6,1423.4 291.2,1422.9 291.7,1422.4 292.3,1421.9 292.9,1421.4 293.4,1420.9 294,1420.4 294.6,1419.9 295.1,1419.4 295.7,1419 296.3,1418.5 296.8,1418 297.4,1417.5 298,1417 298.5,1416.5 299.1,1416 299.7,1415.6 300.2,1415.1 300.8,1414.6 301.4,1414.1 301.9,1413.6 302.5,1413.2 303.1,1412.7 303.6,1412.2 304.2,1411.7 304.7,1411.3 305.3,1410.8 305.9,1410.3 306.4,1409.9 307,1409.4 307.6,1408.9 308.1,1408.5 308.7,1408 309.3,1407.5 309.8,1407.1 310.4,1406.6 311,1406.2 311.5,1405.7 312.1,1405.2 312.7,1404.8 313.2,1404.3 313.8,1403.9 314.4,1403.4 314.9,1403 315.5,1402.5 316.1,1402.1 316.6,1401.6 317.2,1401.2 317.8,1400.7 318.3,1400.3 318.9,1399.8 319.4,1399.4 320,1398.9 320.6,1398.5 321.1,1398 321.7,1397.6 322.3,1397.2 322.8,1396.7 323.4,1396.3 324,1395.8 324.5,1395.4 325.1,1395 325.7,1394.5 326.2,1394.1 326.8,1393.7 327.4,1393.2 327.9,1392.8 328.5,1392.4 329.1,1391.9 329.6,1391.5 330.2,1391.1 330.8,1390.7 331.3,1390.2 331.9,1389.8 332.5,1389.4 333,1389 333.6,1388.6 334.1,1388.1 334.7,1387.7 335.3,1387.3 335.8,1386.9 336.4,1386.5 337,1386 337.5,1385.6 338.1,1385.2 338.7,1384.8 339.2,1384.4 339.8,1384 340.4,1383.6 340.9,1383.2 341.5,1382.8 342.1,1382.3 342.6,1381.9 343.2,1381.5 343.8,1381.1 344.3,1380.7 344.9,1380.3 345.5,1379.9 346,1379.5 346.6,1379.1 347.2,1378.7 347.7,1378.3 348.3,1377.9 348.8,1377.5 349.4,1377.1 350,1376.7 350.5,1376.4 351.1,1376 353.9,1374 356.8,1372.1 359.6,1370.2 362.4,1368.3 365.2,1366.4 368.1,1364.6 370.9,1362.8 373.7,1360.9 376.6,1359.2 379.4,1357.4 382.2,1355.7 385,1353.9 387.9,1352.2 390.7,1350.5 393.5,1348.9 396.3,1347.2 399.2,1345.6 402,1344 404.8,1342.4 407.6,1340.8 410.5,1339.2 413.3,1337.7 416.1,1336.2 419,1334.7 421.8,1333.2 424.6,1331.7 427.4,1330.3 430.3,1328.8 433.1,1327.4 435.9,1326 438.7,1324.6 441.6,1323.2 444.4,1321.8 447.2,1320.5 450.1,1319.2 452.9,1317.8 455.7,1316.5 458.5,1315.2 461.4,1314 464.2,1312.7 467,1311.5 469.8,1310.2 472.7,1309 475.5,1307.8 478.3,1306.6 481.2,1305.4 484,1304.3 486.8,1303.1 489.6,1302 492.5,1300.9 495.3,1299.7 498.1,1298.6 500.9,1297.5 503.8,1296.5 506.6,1295.4 509.4,1294.4 512.2,1293.3 515.1,1292.3 517.9,1291.3 520.7,1290.3 523.6,1289.3 526.4,1288.3 529.2,1287.3 532,1286.3 534.9,1285.4 537.7,1284.4 540.5,1283.5 543.3,1282.6 546.2,1281.7 549,1280.8 551.8,1279.9 566,1275.6 580.1,1271.5 594.2,1267.7 608.4,1264 622.5,1260.6 636.6,1257.3 650.8,1254.2 664.9,1251.3 679,1248.6 693.2,1246 707.3,1243.5 721.4,1241.2 735.6,1239 749.7,1236.9 763.9,1234.9 778,1233.1 792.1,1231.3 806.3,1229.7 820.4,1228.1 834.5,1226.6 848.7,1225.2 862.8,1223.9 876.9,1222.6 891.1,1221.4 905.2,1220.3 919.3,1219.2 933.5,1218.2 947.6,1217.3 961.7,1216.4 975.9,1215.5 990,1214.7 1004.1,1214 1018.3,1213.2 1032.4,1212.6 1046.6,1211.9 1060.7,1211.3 1074.8,1210.7 1089,1210.2 1103.1,1209.7 1117.2,1209.2 1131.4,1208.7 1145.5,1208.3 1159.6,1207.9 1173.8,1207.5 1187.9,1207.2 1202,1206.8 1216.2,1206.5 1230.3,1206.2 1244.4,1205.9 1258.6,1205.6 1272.7,1205.3 1286.8,1205.1 1301,1204.9 1315.1,1204.6 1329.3,1204.4 1343.4,1204.2 1357.5,1204 1371.7,1203.9 1385.8,1203.7 1399.9,1203.5 1414.1,1203.4 1428.2,1203.2 1442.3,1203.1 1456.5,1203 1470.6,1202.9 1484.7,1202.7 1498.9,1202.6 1513,1202.5 1527.1,1202.4 1541.3,1202.4 1555.4,1202.3 1569.5,1202.2 1583.7,1202.1 1597.8,1202 1612,1202 1626.1,1201.9 1640.2,1201.8 1654.4,1201.8 1668.5,1201.7 1679.8,1201.7" fill="none" stroke="#ff0000" stroke-width="6.5" stroke-linecap="round" stroke-linejoin="round" stroke-dasharray="13 24.5 0.01 24" stroke-dashoffset="7" />
<line x1="182.5" y1="800" x2="182.5" y2="1470.5" stroke="#000" stroke-width="3" stroke-linecap="butt" />
<line x1="181" y1="801.5" x2="1738" y2="801.5" stroke="#000" stroke-width="3" stroke-linecap="butt" />
<line x1="181" y1="1469" x2="1738" y2="1469" stroke="#000" stroke-width="3" stroke-linecap="butt" />
<line x1="1737" y1="800" x2="1737" y2="1470.5" stroke="#000" stroke-width="2.1" stroke-linecap="butt" />
<line x1="182.5" y1="1441.6" x2="198" y2="1441.6" stroke="#000" stroke-width="3" stroke-linecap="butt" />
<line x1="182.5" y1="1325" x2="198" y2="1325" stroke="#000" stroke-width="3" stroke-linecap="butt" />
<line x1="182.5" y1="1208.4" x2="198" y2="1208.4" stroke="#000" stroke-width="3" stroke-linecap="butt" />
<line x1="182.5" y1="1091.8" x2="198" y2="1091.8" stroke="#000" stroke-width="3" stroke-linecap="butt" />
<line x1="182.5" y1="975.2" x2="198" y2="975.2" stroke="#000" stroke-width="3" stroke-linecap="butt" />
<line x1="182.5" y1="858.6" x2="198" y2="858.6" stroke="#000" stroke-width="3" stroke-linecap="butt" />
<line x1="182.5" y1="1383.3" x2="190" y2="1383.3" stroke="#000" stroke-width="3" stroke-linecap="butt" />
<line x1="182.5" y1="1266.7" x2="190" y2="1266.7" stroke="#000" stroke-width="3" stroke-linecap="butt" />
<line x1="182.5" y1="1150.1" x2="190" y2="1150.1" stroke="#000" stroke-width="3" stroke-linecap="butt" />
<line x1="182.5" y1="1033.5" x2="190" y2="1033.5" stroke="#000" stroke-width="3" stroke-linecap="butt" />
<line x1="182.5" y1="916.9" x2="190" y2="916.9" stroke="#000" stroke-width="3" stroke-linecap="butt" />
<line x1="266.3" y1="1469" x2="266.3" y2="1453" stroke="#000" stroke-width="3" stroke-linecap="butt" />
<line x1="549" y1="1469" x2="549" y2="1453" stroke="#000" stroke-width="3" stroke-linecap="butt" />
<line x1="831.7" y1="1469" x2="831.7" y2="1453" stroke="#000" stroke-width="3" stroke-linecap="butt" />
<line x1="1114.4" y1="1469" x2="1114.4" y2="1453" stroke="#000" stroke-width="3" stroke-linecap="butt" />
<line x1="1397.1" y1="1469" x2="1397.1" y2="1453" stroke="#000" stroke-width="3" stroke-linecap="butt" />
<line x1="1679.8" y1="1469" x2="1679.8" y2="1453" stroke="#000" stroke-width="3" stroke-linecap="butt" />
<line x1="407.6" y1="1469" x2="407.6" y2="1460.5" stroke="#000" stroke-width="3" stroke-linecap="butt" />
<line x1="690.4" y1="1469" x2="690.4" y2="1460.5" stroke="#000" stroke-width="3" stroke-linecap="butt" />
<line x1="973" y1="1469" x2="973" y2="1460.5" stroke="#000" stroke-width="3" stroke-linecap="butt" />
<line x1="1255.8" y1="1469" x2="1255.8" y2="1460.5" stroke="#000" stroke-width="3" stroke-linecap="butt" />
<line x1="1538.5" y1="1469" x2="1538.5" y2="1460.5" stroke="#000" stroke-width="3" stroke-linecap="butt" />
<line x1="1737" y1="1447.2" x2="1721" y2="1447.2" stroke="#000" stroke-width="3" stroke-linecap="butt" />
<line x1="1737" y1="1231.8" x2="1721" y2="1231.8" stroke="#000" stroke-width="3" stroke-linecap="butt" />
<line x1="1737" y1="1016.4" x2="1721" y2="1016.4" stroke="#000" stroke-width="3" stroke-linecap="butt" />
<line x1="1737" y1="801" x2="1721" y2="801" stroke="#000" stroke-width="3" stroke-linecap="butt" />
<line x1="1737" y1="1339.5" x2="1729" y2="1339.5" stroke="#000" stroke-width="3" stroke-linecap="butt" />
<line x1="1737" y1="1124.1" x2="1729" y2="1124.1" stroke="#000" stroke-width="3" stroke-linecap="butt" />
<line x1="1737" y1="908.7" x2="1729" y2="908.7" stroke="#000" stroke-width="3" stroke-linecap="butt" />
<text x="162.5" y="1453.9" font-family="'Liberation Serif','Times New Roman',serif" font-size="44" text-anchor="end" fill="#000" >300</text>
<text x="162.5" y="1337.3" font-family="'Liberation Serif','Times New Roman',serif" font-size="44" text-anchor="end" fill="#000" >320</text>
<text x="162.5" y="1220.7" font-family="'Liberation Serif','Times New Roman',serif" font-size="44" text-anchor="end" fill="#000" >340</text>
<text x="162.5" y="1104.1" font-family="'Liberation Serif','Times New Roman',serif" font-size="44" text-anchor="end" fill="#000" >360</text>
<text x="162.5" y="987.5" font-family="'Liberation Serif','Times New Roman',serif" font-size="44" text-anchor="end" fill="#000" >380</text>
<text x="162.5" y="870.9" font-family="'Liberation Serif','Times New Roman',serif" font-size="44" text-anchor="end" fill="#000" >400</text>
<text x="1756.1" y="1458.3" font-family="'Liberation Sans',Arial,sans-serif" font-size="38" text-anchor="start" fill="#000" >0</text>
<text x="1756.1" y="1242.9" font-family="'Liberation Sans',Arial,sans-serif" font-size="38" text-anchor="start" fill="#000" >50</text>
<text x="1756.1" y="1027.5" font-family="'Liberation Sans',Arial,sans-serif" font-size="38" text-anchor="start" fill="#000" >100</text>
<text x="1756.1" y="812.1" font-family="'Liberation Sans',Arial,sans-serif" font-size="38" text-anchor="start" fill="#000" >150</text>
<text x="200.5" y="859.1" font-family="'Liberation Serif','Times New Roman',serif" font-size="51" text-anchor="start" fill="#000" >(b)</text>
<text transform="translate(64.1 1201.1) rotate(-90)" font-family="'Liberation Serif','Times New Roman',serif" font-size="50">T<tspan font-size="33" dy="12.8">spin</tspan><tspan dy="-12.8"> (K)</tspan></text>
<text transform="translate(1873.8 1414.6) rotate(-90)" font-family="'Liberation Serif','Times New Roman',serif" font-size="50">Fast and slow component of</text>
<text transform="translate(1947 1214) rotate(-90)" font-family="'Liberation Serif','Times New Roman',serif" font-size="50">ΔT<tspan font-size="33" dy="12">s</tspan><tspan dy="-12"> (K)</tspan></text>
<polyline points="989.7,948.8 1086,948.8" fill="none" stroke="#000" stroke-width="6.5" stroke-linecap="round" stroke-linejoin="round" stroke-dasharray="0.01 18.8" stroke-dashoffset="0" />
<polyline points="989.2,1010.9 1084.7,1010.9" fill="none" stroke="#0000ff" stroke-width="6" stroke-linecap="round" stroke-linejoin="round" stroke-dasharray="25.6 44.3" stroke-dashoffset="0" />
<polyline points="989,1073 1102.8,1073" fill="none" stroke="#ff6666" stroke-width="10" stroke-linecap="round" stroke-linejoin="round" />
<text x="1126" y="963.9" font-family="'Liberation Serif','Times New Roman',serif" font-size="50.6" text-anchor="start" fill="#000" >Bi-exponential fitting</text>
<text x="1124" y="1026.9" font-family="'Liberation Serif','Times New Roman',serif" font-size="50.6" text-anchor="start" fill="#000" >Single-exponential fitting</text>
<text x="1124" y="1088.5" font-family="'Liberation Serif','Times New Roman',serif" font-size="50.6" text-anchor="start" fill="#000" >Simulations data</text>
<text x="362" y="1160.7" font-family="'Liberation Serif','Times New Roman',serif" font-size="50"><tspan font-style="italic">A</tspan><tspan font-style="italic" font-size="37" dy="14">f</tspan><tspan x="425.7" dy="-14">= 43.58 K</tspan></text>
<text x="376.4" y="1229.7" font-family="'Liberation Serif','Times New Roman',serif" font-size="50"><tspan font-style="italic">τ</tspan><tspan font-style="italic" font-size="37" dy="14">f</tspan><tspan x="424.7" dy="-14">= 0.46 ps</tspan></text>
<text x="999.3" y="1169.6" font-family="'Liberation Serif','Times New Roman',serif" font-size="50"><tspan font-style="italic">A</tspan><tspan font-style="italic" font-size="37" dy="14">s</tspan><tspan x="1052.9" dy="-14">= 56.74 K</tspan></text>
<text x="1330" y="1169.6" font-family="'Liberation Serif','Times New Roman',serif" font-size="50"><tspan font-style="italic">τ</tspan><tspan font-style="italic" font-size="37" dy="14">s</tspan><tspan x="1370.1" dy="-14">= 8.93 ps</tspan></text>
<text x="796" y="1377.8" font-family="'Liberation Serif','Times New Roman',serif" font-size="50"><tspan font-style="italic">A</tspan><tspan font-style="italic" font-size="37" dy="14">s</tspan><tspan dy="-14" font-style="italic"> / (A</tspan><tspan font-style="italic" font-size="37" dy="14">s</tspan><tspan dy="-14" font-style="italic">+A</tspan><tspan font-style="italic" font-size="37" dy="14">f</tspan><tspan dy="-14" font-style="italic">)</tspan><tspan x="1051.7">= 0.57</tspan></text>
<rect x="376.9" y="895.1" width="163.9" height="6.7" fill="#000"/>
<polygon points="351.9,898.5 377,883.2 377,916" fill="#000"/>
<rect x="756.7" y="1285.8" width="170" height="6" fill="#000"/>
<polygon points="951.3,1289.3 926.2,1273.2 926.2,1306.7" fill="#000"/>
<rect x="564" y="863.3" width="6" height="6.4" fill="#000"/>
<rect x="598.5" y="865.1" width="6" height="6" fill="#000" transform="rotate(45 601.5 868.1)"/>
<rect x="550.4" y="874.4" width="6" height="6.4" fill="#000"/>
<rect x="615.4" y="879.3" width="6" height="6.4" fill="#000"/>
<rect x="535.5" y="910.2" width="6" height="6.4" fill="#000"/>
<rect x="535.5" y="929.6" width="6" height="6.4" fill="#000"/>
<rect x="627.4" y="917.6" width="6" height="6.4" fill="#000"/>
<rect x="627.4" y="914" width="6" height="6.4" fill="#000"/>
<rect x="550.8" y="962.5" width="6" height="6.4" fill="#000"/>
<rect x="568.9" y="974.7" width="6" height="6" fill="#000" transform="rotate(45 571.9 977.7)"/>
<rect x="587" y="975.7" width="6" height="6.4" fill="#000"/>
<rect x="677" y="1206.2" width="6" height="6.4" fill="#000"/>
<rect x="711.5" y="1207.2" width="6" height="6" fill="#000" transform="rotate(45 714.5 1210.2)"/>
<rect x="663.5" y="1216.5" width="6" height="6" fill="#000" transform="rotate(45 666.5 1219.5)"/>
<rect x="728.8" y="1221.6" width="6" height="6.4" fill="#000"/>
<rect x="652.5" y="1234.6" width="6" height="6.4" fill="#000"/>
<rect x="737.5" y="1239.8" width="6" height="6.4" fill="#000"/>
<rect x="648.5" y="1253.6" width="6" height="6.4" fill="#000"/>
<rect x="740.4" y="1259.2" width="6" height="6.4" fill="#000"/>
<rect x="648.5" y="1271.5" width="6" height="6.4" fill="#000"/>
<rect x="737.3" y="1281.6" width="6" height="6.4" fill="#000"/>
<rect x="653.5" y="1290.2" width="6" height="6.4" fill="#000"/>
<rect x="728.8" y="1298.7" width="6" height="6.4" fill="#000"/>
<rect x="681.9" y="1316.6" width="6" height="6.4" fill="#000"/>
<rect x="700.4" y="1317.7" width="6" height="6.4" fill="#000"/>
<polyline points="238,2107.6 238.6,2107.6 239.2,2107.6 239.7,2107.6 240.3,2107.6 240.9,2107.6 241.4,2107.6 242,2107.6 242.6,2107.6 243.1,2107.6 243.7,2107.6 244.2,2107.6 244.8,2107.6 245.4,2107.6 245.9,2107.6 246.5,2107.6 247.1,2107.6 247.6,2107.6 248.2,2107.6 248.8,2107.6 249.3,2107.6 249.9,2107.6 250.5,2107.6 251,2107.6 251.6,2107.6 252.2,2107.6 252.7,2107.6 253.3,2107.6 253.9,2107.6 254.4,2107.6 255,2107.6 255.6,2107.6 256.1,2107.6 256.7,2107.6 257.3,2107.6 257.8,2107.6 258.4,2107.6 258.9,2107.6 259.5,2107.6 260.1,2107.6 260.6,2107.6 261.2,2107.6 261.8,2107.6 262.3,2107.6 262.9,2107.6 263.5,2107.6 264,2107.6 264.6,2107.6 265.2,2107.6 265.7,2107.6 266.3,2107.6 266.9,2097.4 267.4,2087.6 268,2078.2 268.6,2069.2 269.1,2060.6 269.7,2052.3 270.3,2044.4 270.8,2036.8 271.4,2029.5 272,2022.5 272.5,2015.8 273.1,2009.4 273.7,2003.2 274.2,1997.2 274.8,1991.5 275.3,1986 275.9,1980.8 276.5,1975.7 277,1970.8 277.6,1966.2 278.2,1961.7 278.7,1957.3 279.3,1953.2 279.9,1949.2 280.4,1945.3 281,1941.6 281.6,1938 282.1,1934.6 282.7,1931.3 283.3,1928.1 283.8,1925 284.4,1922.1 285,1919.2 285.5,1916.4 286.1,1913.8 286.7,1911.2 287.2,1908.7 287.8,1906.3 288.4,1904 288.9,1901.8 289.5,1899.6 290,1897.5 290.6,1895.5 291.2,1893.5 291.7,1891.6 292.3,1889.8 292.9,1888 293.4,1886.3 294,1884.6 294.6,1883 295.1,1881.4 295.7,1879.9 296.3,1878.4 296.8,1877 297.4,1875.6 298,1874.2 298.5,1872.9 299.1,1871.6 299.7,1870.3 300.2,1869.1 300.8,1867.9 301.4,1866.8 301.9,1865.6 302.5,1864.5 303.1,1863.4 303.6,1862.4 304.2,1861.4 304.7,1860.3 305.3,1859.4 305.9,1858.4 306.4,1857.5 307,1856.5 307.6,1855.6 308.1,1854.8 308.7,1853.9 309.3,1853 309.8,1852.2 310.4,1851.4 311,1850.6 311.5,1849.8 312.1,1849 312.7,1848.2 313.2,1847.5 313.8,1846.8 314.4,1846 314.9,1845.3 315.5,1844.6 316.1,1843.9 316.6,1843.2 317.2,1842.6 317.8,1841.9 318.3,1841.2 318.9,1840.6 319.4,1839.9 320,1839.3 320.6,1838.7 321.1,1838.1 321.7,1837.5 322.3,1836.8 322.8,1836.2 323.4,1835.7 324,1835.1 324.5,1834.5 325.1,1833.9 325.7,1833.3 326.2,1832.8 326.8,1832.2 327.4,1831.7 327.9,1831.1 328.5,1830.6 329.1,1830 329.6,1829.5 330.2,1829 330.8,1828.4 331.3,1827.9 331.9,1827.4 332.5,1826.9 333,1826.4 333.6,1825.9 334.1,1825.3 334.7,1824.8 335.3,1824.3 335.8,1823.8 336.4,1823.3 337,1822.9 337.5,1822.4 338.1,1821.9 338.7,1821.4 339.2,1820.9 339.8,1820.4 340.4,1820 340.9,1819.5 341.5,1819 342.1,1818.5 342.6,1818.1 343.2,1817.6 343.8,1817.1 344.3,1816.7 344.9,1816.2 345.5,1815.8 346,1815.3 346.6,1814.8 347.2,1814.4 347.7,1813.9 348.3,1813.5 348.8,1813 349.4,1812.6 350,1812.2 350.5,1811.7 351.1,1811.3 353.9,1809.1 356.8,1806.9 359.6,1804.8 362.4,1802.7 365.2,1800.7 368.1,1798.6 370.9,1796.6 373.7,1794.6 376.6,1792.7 379.4,1790.7 382.2,1788.8 385,1786.9 387.9,1785 390.7,1783.2 393.5,1781.4 396.3,1779.5 399.2,1777.7 402,1776 404.8,1774.2 407.6,1772.5 410.5,1770.8 413.3,1769.1 416.1,1767.4 419,1765.7 421.8,1764.1 424.6,1762.4 427.4,1760.8 430.3,1759.2 433.1,1757.7 435.9,1756.1 438.7,1754.6 441.6,1753 444.4,1751.5 447.2,1750 450.1,1748.5 452.9,1747.1 455.7,1745.6 458.5,1744.2 461.4,1742.8 464.2,1741.4 467,1740 469.8,1738.6 472.7,1737.3 475.5,1735.9 478.3,1734.6 481.2,1733.3 484,1732 486.8,1730.7 489.6,1729.5 492.5,1728.2 495.3,1727 498.1,1725.7 500.9,1724.5 503.8,1723.3 506.6,1722.1 509.4,1720.9 512.2,1719.8 515.1,1718.6 517.9,1717.5 520.7,1716.4 523.6,1715.2 526.4,1714.1 529.2,1713 532,1712 534.9,1710.9 537.7,1709.8 540.5,1708.8 543.3,1707.8 546.2,1706.7 549,1705.7 551.8,1704.7 566,1699.9 580.1,1695.3 594.2,1691 608.4,1686.8 622.5,1683 636.6,1679.3 650.8,1675.8 664.9,1672.5 679,1669.3 693.2,1666.4 707.3,1663.6 721.4,1660.9 735.6,1658.4 749.7,1656 763.9,1653.8 778,1651.6 792.1,1649.6 806.3,1647.7 820.4,1645.9 834.5,1644.1 848.7,1642.5 862.8,1641 876.9,1639.5 891.1,1638.1 905.2,1636.8 919.3,1635.5 933.5,1634.4 947.6,1633.2 961.7,1632.2 975.9,1631.2 990,1630.2 1004.1,1629.3 1018.3,1628.5 1032.4,1627.6 1046.6,1626.9 1060.7,1626.1 1074.8,1625.4 1089,1624.8 1103.1,1624.1 1117.2,1623.5 1131.4,1623 1145.5,1622.4 1159.6,1621.9 1173.8,1621.4 1187.9,1620.9 1202,1620.5 1216.2,1620.1 1230.3,1619.7 1244.4,1619.3 1258.6,1618.9 1272.7,1618.5 1286.8,1618.2 1301,1617.9 1315.1,1617.6 1329.3,1617.3 1343.4,1617 1357.5,1616.7 1371.7,1616.5 1385.8,1616.2 1399.9,1616 1414.1,1615.8 1428.2,1615.5 1442.3,1615.3 1456.5,1615.1 1470.6,1614.9 1484.7,1614.7 1498.9,1614.5 1513,1614.4 1527.1,1614.2 1541.3,1614 1555.4,1613.9 1569.5,1613.7 1583.7,1613.6 1597.8,1613.4 1612,1613.3 1626.1,1613.1 1640.2,1613 1654.4,1612.9 1668.5,1612.8 1679.8,1612.7" fill="none" stroke="#ff9595" stroke-width="10" stroke-linecap="round" stroke-linejoin="round" />
<polyline points="238,2107.6 238.6,2107.6 239.2,2107.6 239.7,2107.6 240.3,2107.6 240.9,2107.6 241.4,2107.6 242,2107.6 242.6,2107.6 243.1,2107.6 243.7,2107.6 244.2,2107.6 244.8,2107.6 245.4,2107.6 245.9,2107.6 246.5,2107.6 247.1,2107.6 247.6,2107.6 248.2,2107.6 248.8,2107.6 249.3,2107.6 249.9,2107.6 250.5,2107.6 251,2107.6 251.6,2107.6 252.2,2107.6 252.7,2107.6 253.3,2107.6 253.9,2107.6 254.4,2107.6 255,2107.6 255.6,2107.6 256.1,2107.6 256.7,2107.6 257.3,2107.6 257.8,2107.6 258.4,2107.6 258.9,2107.6 259.5,2107.6 260.1,2107.6 260.6,2107.6 261.2,2107.6 261.8,2107.6 262.3,2107.6 262.9,2107.6 263.5,2107.6 264,2107.6 264.6,2107.6 265.2,2107.6 265.7,2107.6 266.3,2107.6 266.9,2097.4 267.4,2087.6 268,2078.2 268.6,2069.2 269.1,2060.6 269.7,2052.3 270.3,2044.4 270.8,2036.8 271.4,2029.5 272,2022.5 272.5,2015.8 273.1,2009.4 273.7,2003.2 274.2,1997.2 274.8,1991.5 275.3,1986 275.9,1980.8 276.5,1975.7 277,1970.8 277.6,1966.2 278.2,1961.7 278.7,1957.3 279.3,1953.2 279.9,1949.2 280.4,1945.3 281,1941.6 281.6,1938 282.1,1934.6 282.7,1931.3 283.3,1928.1 283.8,1925 284.4,1922.1 285,1919.2 285.5,1916.4 286.1,1913.8 286.7,1911.2 287.2,1908.7 287.8,1906.3 288.4,1904 288.9,1901.8 289.5,1899.6 290,1897.5 290.6,1895.5 291.2,1893.5 291.7,1891.6 292.3,1889.8 292.9,1888 293.4,1886.3 294,1884.6 294.6,1883 295.1,1881.4 295.7,1879.9 296.3,1878.4 296.8,1877 297.4,1875.6 298,1874.2 298.5,1872.9 299.1,1871.6 299.7,1870.3 300.2,1869.1 300.8,1867.9 301.4,1866.8 301.9,1865.6 302.5,1864.5 303.1,1863.4 303.6,1862.4 304.2,1861.4 304.7,1860.3 305.3,1859.4 305.9,1858.4 306.4,1857.5 307,1856.5 307.6,1855.6 308.1,1854.8 308.7,1853.9 309.3,1853 309.8,1852.2 310.4,1851.4 311,1850.6 311.5,1849.8 312.1,1849 312.7,1848.2 313.2,1847.5 313.8,1846.8 314.4,1846 314.9,1845.3 315.5,1844.6 316.1,1843.9 316.6,1843.2 317.2,1842.6 317.8,1841.9 318.3,1841.2 318.9,1840.6 319.4,1839.9 320,1839.3 320.6,1838.7 321.1,1838.1 321.7,1837.5 322.3,1836.8 322.8,1836.2 323.4,1835.7 324,1835.1 324.5,1834.5 325.1,1833.9 325.7,1833.3 326.2,1832.8 326.8,1832.2 327.4,1831.7 327.9,1831.1 328.5,1830.6 329.1,1830 329.6,1829.5 330.2,1829 330.8,1828.4 331.3,1827.9 331.9,1827.4 332.5,1826.9 333,1826.4 333.6,1825.9 334.1,1825.3 334.7,1824.8 335.3,1824.3 335.8,1823.8 336.4,1823.3 337,1822.9 337.5,1822.4 338.1,1821.9 338.7,1821.4 339.2,1820.9 339.8,1820.4 340.4,1820 340.9,1819.5 341.5,1819 342.1,1818.5 342.6,1818.1 343.2,1817.6 343.8,1817.1 344.3,1816.7 344.9,1816.2 345.5,1815.8 346,1815.3 346.6,1814.8 347.2,1814.4 347.7,1813.9 348.3,1813.5 348.8,1813 349.4,1812.6 350,1812.2 350.5,1811.7 351.1,1811.3 353.9,1809.1 356.8,1806.9 359.6,1804.8 362.4,1802.7 365.2,1800.7 368.1,1798.6 370.9,1796.6 373.7,1794.6 376.6,1792.7 379.4,1790.7 382.2,1788.8 385,1786.9 387.9,1785 390.7,1783.2 393.5,1781.4 396.3,1779.5 399.2,1777.7 402,1776 404.8,1774.2 407.6,1772.5 410.5,1770.8 413.3,1769.1 416.1,1767.4 419,1765.7 421.8,1764.1 424.6,1762.4 427.4,1760.8 430.3,1759.2 433.1,1757.7 435.9,1756.1 438.7,1754.6 441.6,1753 444.4,1751.5 447.2,1750 450.1,1748.5 452.9,1747.1 455.7,1745.6 458.5,1744.2 461.4,1742.8 464.2,1741.4 467,1740 469.8,1738.6 472.7,1737.3 475.5,1735.9 478.3,1734.6 481.2,1733.3 484,1732 486.8,1730.7 489.6,1729.5 492.5,1728.2 495.3,1727 498.1,1725.7 500.9,1724.5 503.8,1723.3 506.6,1722.1 509.4,1720.9 512.2,1719.8 515.1,1718.6 517.9,1717.5 520.7,1716.4 523.6,1715.2 526.4,1714.1 529.2,1713 532,1712 534.9,1710.9 537.7,1709.8 540.5,1708.8 543.3,1707.8 546.2,1706.7 549,1705.7 551.8,1704.7 566,1699.9 580.1,1695.3 594.2,1691 608.4,1686.8 622.5,1683 636.6,1679.3 650.8,1675.8 664.9,1672.5 679,1669.3 693.2,1666.4 707.3,1663.6 721.4,1660.9 735.6,1658.4 749.7,1656 763.9,1653.8 778,1651.6 792.1,1649.6 806.3,1647.7 820.4,1645.9 834.5,1644.1 848.7,1642.5 862.8,1641 876.9,1639.5 891.1,1638.1 905.2,1636.8 919.3,1635.5 933.5,1634.4 947.6,1633.2 961.7,1632.2 975.9,1631.2 990,1630.2 1004.1,1629.3 1018.3,1628.5 1032.4,1627.6 1046.6,1626.9 1060.7,1626.1 1074.8,1625.4 1089,1624.8 1103.1,1624.1 1117.2,1623.5 1131.4,1623 1145.5,1622.4 1159.6,1621.9 1173.8,1621.4 1187.9,1620.9 1202,1620.5 1216.2,1620.1 1230.3,1619.7 1244.4,1619.3 1258.6,1618.9 1272.7,1618.5 1286.8,1618.2 1301,1617.9 1315.1,1617.6 1329.3,1617.3 1343.4,1617 1357.5,1616.7 1371.7,1616.5 1385.8,1616.2 1399.9,1616 1414.1,1615.8 1428.2,1615.5 1442.3,1615.3 1456.5,1615.1 1470.6,1614.9 1484.7,1614.7 1498.9,1614.5 1513,1614.4 1527.1,1614.2 1541.3,1614 1555.4,1613.9 1569.5,1613.7 1583.7,1613.6 1597.8,1613.4 1612,1613.3 1626.1,1613.1 1640.2,1613 1654.4,1612.9 1668.5,1612.8 1679.8,1612.7" fill="none" stroke="#000" stroke-width="6.5" stroke-linecap="round" stroke-linejoin="round" stroke-dasharray="0.01 18.6" stroke-dashoffset="5" />
<polyline points="238,2107.6 238.6,2107.6 239.2,2107.6 239.7,2107.6 240.3,2107.6 240.9,2107.6 241.4,2107.6 242,2107.6 242.6,2107.6 243.1,2107.6 243.7,2107.6 244.2,2107.6 244.8,2107.6 245.4,2107.6 245.9,2107.6 246.5,2107.6 247.1,2107.6 247.6,2107.6 248.2,2107.6 248.8,2107.6 249.3,2107.6 249.9,2107.6 250.5,2107.6 251,2107.6 251.6,2107.6 252.2,2107.6 252.7,2107.6 253.3,2107.6 253.9,2107.6 254.4,2107.6 255,2107.6 255.6,2107.6 256.1,2107.6 256.7,2107.6 257.3,2107.6 257.8,2107.6 258.4,2107.6 258.9,2107.6 259.5,2107.6 260.1,2107.6 260.6,2107.6 261.2,2107.6 261.8,2107.6 262.3,2107.6 262.9,2107.6 263.5,2107.6 264,2107.6 264.6,2107.6 265.2,2107.6 265.7,2107.6 266.3,2107.6 266.9,2097.8 267.4,2088.4 268,2079.4 268.6,2070.7 269.1,2062.3 269.7,2054.3 270.3,2046.6 270.8,2039.1 271.4,2032 272,2025.1 272.5,2018.5 273.1,2012.2 273.7,2006 274.2,2000.2 274.8,1994.5 275.3,1989 275.9,1983.8 276.5,1978.7 277,1973.8 277.6,1969.1 278.2,1964.6 278.7,1960.2 279.3,1956 279.9,1951.9 280.4,1948 281,1944.2 281.6,1940.5 282.1,1937 282.7,1933.6 283.3,1930.3 283.8,1927.1 284.4,1924 285,1921 285.5,1918.1 286.1,1915.3 286.7,1912.6 287.2,1910 287.8,1907.5 288.4,1905 288.9,1902.6 289.5,1900.3 290,1898.1 290.6,1895.9 291.2,1893.8 291.7,1891.7 292.3,1889.7 292.9,1887.8 293.4,1885.9 294,1884.1 294.6,1882.3 295.1,1880.6 295.7,1878.9 296.3,1877.2 296.8,1875.6 297.4,1874.1 298,1872.5 298.5,1871.1 299.1,1869.6 299.7,1868.2 300.2,1866.8 300.8,1865.4 301.4,1864.1 301.9,1862.8 302.5,1861.6 303.1,1860.3 303.6,1859.1 304.2,1857.9 304.7,1856.8 305.3,1855.6 305.9,1854.5 306.4,1853.4 307,1852.3 307.6,1851.2 308.1,1850.2 308.7,1849.2 309.3,1848.2 309.8,1847.2 310.4,1846.2 311,1845.2 311.5,1844.3 312.1,1843.4 312.7,1842.5 313.2,1841.6 313.8,1840.7 314.4,1839.8 314.9,1838.9 315.5,1838.1 316.1,1837.2 316.6,1836.4 317.2,1835.6 317.8,1834.8 318.3,1833.9 318.9,1833.2 319.4,1832.4 320,1831.6 320.6,1830.8 321.1,1830.1 321.7,1829.3 322.3,1828.6 322.8,1827.8 323.4,1827.1 324,1826.4 324.5,1825.6 325.1,1824.9 325.7,1824.2 326.2,1823.5 326.8,1822.8 327.4,1822.1 327.9,1821.5 328.5,1820.8 329.1,1820.1 329.6,1819.4 330.2,1818.8 330.8,1818.1 331.3,1817.5 331.9,1816.8 332.5,1816.2 333,1815.5 333.6,1814.9 334.1,1814.3 334.7,1813.6 335.3,1813 335.8,1812.4 336.4,1811.8 337,1811.2 337.5,1810.5 338.1,1809.9 338.7,1809.3 339.2,1808.7 339.8,1808.1 340.4,1807.5 340.9,1807 341.5,1806.4 342.1,1805.8 342.6,1805.2 343.2,1804.6 343.8,1804 344.3,1803.5 344.9,1802.9 345.5,1802.3 346,1801.8 346.6,1801.2 347.2,1800.6 347.7,1800.1 348.3,1799.5 348.8,1799 349.4,1798.4 350,1797.8 350.5,1797.3 351.1,1796.8 353.9,1794.1 356.8,1791.4 359.6,1788.8 362.4,1786.3 365.2,1783.7 368.1,1781.3 370.9,1778.8 373.7,1776.5 376.6,1774.1 379.4,1771.8 382.2,1769.5 385,1767.3 387.9,1765 390.7,1762.9 393.5,1760.7 396.3,1758.6 399.2,1756.5 402,1754.5 404.8,1752.5 407.6,1750.5 410.5,1748.5 413.3,1746.6 416.1,1744.7 419,1742.8 421.8,1741 424.6,1739.1 427.4,1737.3 430.3,1735.6 433.1,1733.8 435.9,1732.1 438.7,1730.4 441.6,1728.8 444.4,1727.1 447.2,1725.5 450.1,1723.9 452.9,1722.4 455.7,1720.8 458.5,1719.3 461.4,1717.8 464.2,1716.3 467,1714.9 469.8,1713.4 472.7,1712 475.5,1710.6 478.3,1709.2 481.2,1707.9 484,1706.6 486.8,1705.2 489.6,1704 492.5,1702.7 495.3,1701.4 498.1,1700.2 500.9,1699 503.8,1697.8 506.6,1696.6 509.4,1695.4 512.2,1694.3 515.1,1693.1 517.9,1692 520.7,1690.9 523.6,1689.8 526.4,1688.8 529.2,1687.7 532,1686.7 534.9,1685.7 537.7,1684.7 540.5,1683.7 543.3,1682.7 546.2,1681.8 549,1680.8 551.8,1679.9 566,1675.4 580.1,1671.3 594.2,1667.4 608.4,1663.9 622.5,1660.6 636.6,1657.5 650.8,1654.6 664.9,1652 679,1649.5 693.2,1647.2 707.3,1645.1 721.4,1643.1 735.6,1641.3 749.7,1639.6 763.9,1638 778,1636.6 792.1,1635.2 806.3,1634 820.4,1632.8 834.5,1631.7 848.7,1630.7 862.8,1629.7 876.9,1628.9 891.1,1628.1 905.2,1627.3 919.3,1626.6 933.5,1626 947.6,1625.4 961.7,1624.8 975.9,1624.3 990,1623.8 1004.1,1623.4 1018.3,1623 1032.4,1622.6 1046.6,1622.2 1060.7,1621.9 1074.8,1621.6 1089,1621.3 1103.1,1621 1117.2,1620.8 1131.4,1620.6 1145.5,1620.3 1159.6,1620.2 1173.8,1620 1187.9,1619.8 1202,1619.6 1216.2,1619.5 1230.3,1619.4 1244.4,1619.2 1258.6,1619.1 1272.7,1619 1286.8,1618.9 1301,1618.8 1315.1,1618.7 1329.3,1618.6 1343.4,1618.6 1357.5,1618.5 1371.7,1618.4 1385.8,1618.4 1399.9,1618.3 1414.1,1618.3 1428.2,1618.2 1442.3,1618.2 1456.5,1618.1 1470.6,1618.1 1484.7,1618.1 1498.9,1618 1513,1618 1527.1,1618 1541.3,1617.9 1555.4,1617.9 1569.5,1617.9 1583.7,1617.9 1597.8,1617.9 1612,1617.8 1626.1,1617.8 1640.2,1617.8 1654.4,1617.8 1668.5,1617.8 1679.8,1617.8" fill="none" stroke="#0000ff" stroke-width="6.5" stroke-linecap="round" stroke-linejoin="round" stroke-dasharray="25 46" stroke-dashoffset="8" />
<polyline points="238,2107.6 241.4,2107.8 246.3,2108.3 252,2108.8 257.7,2109.1 262.7,2108.7 266.3,2107.6 268.2,2105.7 269.1,2103.2 269.3,2100.2 269.1,2096.7 269,2092.6 269.1,2088 269.6,2082.7 270.1,2076.7 270.5,2070.2 271,2063.3 271.5,2056.1 272,2048.8 272.4,2041.1 272.9,2033 273.4,2024.6 273.8,2016.1 274.3,2007.8 274.8,1999.8 275.3,1992 275.7,1984.3 276.2,1976.7 276.7,1969.3 277.1,1962.3 277.6,1955.7 278.1,1949.7 278.6,1944.1 279,1938.9 279.5,1933.8 280,1928.9 280.4,1923.8 280.9,1918.9 281.3,1914.3 281.8,1909.8 282.2,1905.1 282.7,1900 283.3,1894.4 283.9,1888 284.5,1880.9 285.2,1873.4 285.9,1866 286.6,1859 287.2,1852.8 287.8,1847.6 288.3,1843 288.8,1838.8 289.3,1834.9 289.8,1831 290.3,1826.8 290.8,1822.5 291.3,1818.2 291.8,1813.8 292.3,1809.5 292.9,1805.2 293.4,1800.9 294,1796.6 294.7,1792.3 295.3,1788.1 296,1783.9 296.7,1779.6 297.4,1775.4 298.2,1771.1 299,1766.9 299.9,1762.6 300.7,1758.4 301.6,1754.1 302.5,1749.9 303.4,1745.6 304.2,1741.4 305.1,1737.1 306,1732.9 306.9,1728.6 307.9,1724.4 308.8,1720.2 309.8,1716 310.8,1711.8 311.9,1707.6 313,1703.5 314.4,1699.4 315.8,1695.4 317.4,1691.4 319,1687.5 320.8,1683.6 322.6,1679.7 324.5,1675.9 326.4,1672.2 328.3,1668.5 330.3,1664.9 332.5,1661.3 335,1657.8 337.8,1654.3 341.2,1650.9 345,1647.5 349,1644.1 353.3,1640.8 357.5,1637.9 361.6,1635.2 365.5,1633 369.4,1631.1 373.3,1629.5 377.2,1628 381.2,1626.7 385.3,1625.4 389.6,1624.3 393.9,1623.4 398.3,1622.6 402.8,1621.8 407.2,1621.2 411.6,1620.5 415.6,1619.9 419.2,1619.4 422.8,1618.9 426.8,1618.4 431.6,1618 437.6,1617.6 443.4,1617.2 448.5,1616.9 454.3,1616.6 462.5,1616.3 474.7,1616 492.5,1615.6 508,1615.3 518.5,1615 533,1614.6 560.5,1614.3 609.9,1613.9 690.4,1613.7 820.9,1613.4 998.2,1613.2 1197.4,1613.1 1394,1612.9 1563,1612.8 1679.8,1612.7" fill="none" stroke="#ff00ff" stroke-width="6" stroke-linecap="round" stroke-linejoin="round" stroke-dasharray="0.01 25.7" stroke-dashoffset="-3" />
<polyline points="236.3,2108.2 266.5,2108.2 266.8,2102.2 267.3,2094 267.8,2084.2 268.4,2073.3 269,2062 269.6,2050 270.2,2036.8 270.8,2023 271.4,2008.9 272,1995 272.6,1981.1 273.2,1967 273.8,1952.8 274.4,1938.7 275,1925 275.6,1912.1 276.1,1899.8 276.6,1887.6 277.1,1874.5 277.6,1860 278,1843.5 278.4,1825.5 278.8,1806.8 279.2,1788 279.6,1770 280.1,1752.3 280.5,1734.4 281,1716.9 281.5,1700.6 282,1686.2 282.5,1674.1 283,1664 283.4,1655 283.9,1646.3 284.4,1637.2 284.9,1627.4 285.4,1617.6 285.8,1607.8 286.4,1598.6 286.9,1590 287.5,1582.2 288.1,1575 288.7,1568.3 289.4,1562 290.1,1556 290.8,1550.2 291.6,1544.8 292.5,1539.7 293.3,1535.1 294.2,1531 295.1,1527.4 296.1,1524.3 297.1,1521.6 298.1,1519.3 299.1,1517.5 300.1,1516.1 301,1515.2 301.9,1514.7 302.9,1514.6 304,1514.8 305.2,1515.3 306.4,1516.3 307.8,1517.5 309.2,1519.2 310.6,1521.1 312.1,1523.5 313.7,1526.5 315.3,1529.6 316.9,1532.8 318.7,1535.8 320.5,1538.5 322.3,1541.1 324.3,1543.6 326.3,1546.2 328.5,1548.9 330.9,1551.8 333.5,1554.7 336.2,1557.8 338.9,1560.7 341.6,1563.6 344,1566.3 346.2,1568.8 348.6,1571.3 351.4,1573.9 355,1576.7 359.6,1579.8 365,1583.2 370.8,1586.6 376.8,1589.9 382.8,1592.8 388.5,1595.3 394,1597.5 399.8,1599.5 406.1,1601.4 413.2,1603 421.3,1604.4 430.1,1605.7 439.5,1606.7 449.1,1607.7 458.8,1608.5 468,1609.2 476.8,1609.8 486.1,1610.3 496.7,1610.7 509.5,1611.1 509.2,1611.4 495.2,1611.6 490.5,1611.8 517.8,1611.9 600,1612 770.3,1612.1 1013.3,1612.1 1279.5,1612.1 1519,1612.1 1682,1612.1" fill="none" stroke="#00ff00" stroke-width="7" stroke-linecap="butt" stroke-linejoin="round" />
<line x1="182.5" y1="1469" x2="182.5" y2="2136" stroke="#000" stroke-width="3" stroke-linecap="butt" />
<line x1="181" y1="1470.5" x2="1738" y2="1470.5" stroke="#000" stroke-width="3" stroke-linecap="butt" />
<line x1="181" y1="2134.5" x2="1738" y2="2134.5" stroke="#000" stroke-width="3" stroke-linecap="butt" />
<line x1="1737" y1="1469" x2="1737" y2="2136" stroke="#000" stroke-width="2.1" stroke-linecap="butt" />
<line x1="182.5" y1="2107.6" x2="198" y2="2107.6" stroke="#000" stroke-width="3" stroke-linecap="butt" />
<line x1="182.5" y1="1985.1" x2="198" y2="1985.1" stroke="#000" stroke-width="3" stroke-linecap="butt" />
<line x1="182.5" y1="1862.6" x2="198" y2="1862.6" stroke="#000" stroke-width="3" stroke-linecap="butt" />
<line x1="182.5" y1="1740.1" x2="198" y2="1740.1" stroke="#000" stroke-width="3" stroke-linecap="butt" />
<line x1="182.5" y1="1617.6" x2="198" y2="1617.6" stroke="#000" stroke-width="3" stroke-linecap="butt" />
<line x1="182.5" y1="1495.1" x2="198" y2="1495.1" stroke="#000" stroke-width="3" stroke-linecap="butt" />
<line x1="182.5" y1="2046.3" x2="190" y2="2046.3" stroke="#000" stroke-width="3" stroke-linecap="butt" />
<line x1="182.5" y1="1923.8" x2="190" y2="1923.8" stroke="#000" stroke-width="3" stroke-linecap="butt" />
<line x1="182.5" y1="1801.3" x2="190" y2="1801.3" stroke="#000" stroke-width="3" stroke-linecap="butt" />
<line x1="182.5" y1="1678.8" x2="190" y2="1678.8" stroke="#000" stroke-width="3" stroke-linecap="butt" />
<line x1="182.5" y1="1556.3" x2="190" y2="1556.3" stroke="#000" stroke-width="3" stroke-linecap="butt" />
<line x1="266.3" y1="2134.5" x2="266.3" y2="2117.5" stroke="#000" stroke-width="3" stroke-linecap="butt" />
<line x1="549" y1="2134.5" x2="549" y2="2117.5" stroke="#000" stroke-width="3" stroke-linecap="butt" />
<line x1="831.7" y1="2134.5" x2="831.7" y2="2117.5" stroke="#000" stroke-width="3" stroke-linecap="butt" />
<line x1="1114.4" y1="2134.5" x2="1114.4" y2="2117.5" stroke="#000" stroke-width="3" stroke-linecap="butt" />
<line x1="1397.1" y1="2134.5" x2="1397.1" y2="2117.5" stroke="#000" stroke-width="3" stroke-linecap="butt" />
<line x1="1679.8" y1="2134.5" x2="1679.8" y2="2117.5" stroke="#000" stroke-width="3" stroke-linecap="butt" />
<line x1="407.6" y1="2134.5" x2="407.6" y2="2125.5" stroke="#000" stroke-width="3" stroke-linecap="butt" />
<line x1="690.4" y1="2134.5" x2="690.4" y2="2125.5" stroke="#000" stroke-width="3" stroke-linecap="butt" />
<line x1="973" y1="2134.5" x2="973" y2="2125.5" stroke="#000" stroke-width="3" stroke-linecap="butt" />
<line x1="1255.8" y1="2134.5" x2="1255.8" y2="2125.5" stroke="#000" stroke-width="3" stroke-linecap="butt" />
<line x1="1538.5" y1="2134.5" x2="1538.5" y2="2125.5" stroke="#000" stroke-width="3" stroke-linecap="butt" />
<text x="162.5" y="2119.9" font-family="'Liberation Serif','Times New Roman',serif" font-size="44" text-anchor="end" fill="#000" >300</text>
<text x="162.5" y="1997.4" font-family="'Liberation Serif','Times New Roman',serif" font-size="44" text-anchor="end" fill="#000" >325</text>
<text x="162.5" y="1874.9" font-family="'Liberation Serif','Times New Roman',serif" font-size="44" text-anchor="end" fill="#000" >350</text>
<text x="162.5" y="1752.4" font-family="'Liberation Serif','Times New Roman',serif" font-size="44" text-anchor="end" fill="#000" >375</text>
<text x="162.5" y="1629.9" font-family="'Liberation Serif','Times New Roman',serif" font-size="44" text-anchor="end" fill="#000" >400</text>
<text x="162.5" y="1507.4" font-family="'Liberation Serif','Times New Roman',serif" font-size="44" text-anchor="end" fill="#000" >425</text>
<text x="191.9" y="1526.1" font-family="'Liberation Serif','Times New Roman',serif" font-size="50.3" text-anchor="start" fill="#000" >(c)</text>
<text transform="translate(53.8 1841) rotate(-90)" font-family="'Liberation Serif','Times New Roman',serif" font-size="50">T<tspan font-size="33" dy="12.8">spin</tspan><tspan dy="-12.8"> (K)</tspan></text>
<polyline points="793.5,1711.2 922.9,1711.2" fill="none" stroke="#ff9595" stroke-width="10" stroke-linecap="round" stroke-linejoin="round" />
<polyline points="791.7,1803.7 906.5,1803.7" fill="none" stroke="#000" stroke-width="6.5" stroke-linecap="round" stroke-linejoin="round" stroke-dasharray="0.01 19.1" stroke-dashoffset="0" />
<polyline points="791.5,1895 887,1895" fill="none" stroke="#0000ff" stroke-width="6.5" stroke-linecap="round" stroke-linejoin="round" stroke-dasharray="25 44" stroke-dashoffset="0" />
<polyline points="791.5,1988.7 921,1988.7" fill="none" stroke="#ff00ff" stroke-width="6" stroke-linecap="round" stroke-linejoin="round" stroke-dasharray="0.01 25.7" stroke-dashoffset="0" />
<polyline points="792,2080.6 922,2080.6" fill="none" stroke="#00ff00" stroke-width="7" stroke-linecap="round" stroke-linejoin="round" />
<text x="939" y="1731.5" font-family="'Liberation Serif','Times New Roman',serif" font-size="57.5" font-style="italic">G</text>
<text x="980.9" y="1706.5" font-family="'Liberation Serif','Times New Roman',serif" font-size="40" font-style="italic">FeMn</text>
<text x="978.9" y="1745.5" font-family="'Liberation Serif','Times New Roman',serif" font-size="41" font-style="italic">sl</text>
<text y="1731.5" font-family="'Liberation Serif','Times New Roman',serif" font-size="57.5"><tspan x="1089.8">=</tspan><tspan x="1143.1">0</tspan><tspan x="1190.6">W(m</tspan><tspan x="1304.5" font-size="39" dy="-24.4">−3</tspan><tspan x="1346" dy="24.4">K</tspan><tspan x="1391.7" font-size="40" dy="-24.4">−1</tspan><tspan x="1433.1" dy="24.4">)</tspan></text>
<text x="939" y="1823.5" font-family="'Liberation Serif','Times New Roman',serif" font-size="57.5" font-style="italic">G</text>
<text x="980.9" y="1798.5" font-family="'Liberation Serif','Times New Roman',serif" font-size="40" font-style="italic">FeMn</text>
<text x="978.9" y="1837.5" font-family="'Liberation Serif','Times New Roman',serif" font-size="41" font-style="italic">sl</text>
<text y="1823.5" font-family="'Liberation Serif','Times New Roman',serif" font-size="57.5"><tspan x="1089.8">=</tspan><tspan x="1140.1">5.4</tspan><tspan x="1227.5">×</tspan><tspan x="1278.8">10</tspan><tspan x="1337.5" font-size="40" dy="-24.4">14</tspan><tspan x="1396.4" dy="24.4">W(m</tspan><tspan x="1511.3" font-size="40" dy="-24.4">−3</tspan><tspan x="1552.2" dy="24.4">K</tspan><tspan x="1596.3" font-size="40" dy="-24.4">−1</tspan><tspan x="1639.6" dy="24.4">)</tspan></text>
<text x="939" y="1915.5" font-family="'Liberation Serif','Times New Roman',serif" font-size="57.5" font-style="italic">G</text>
<text x="980.9" y="1890.5" font-family="'Liberation Serif','Times New Roman',serif" font-size="40" font-style="italic">FeMn</text>
<text x="978.9" y="1929.5" font-family="'Liberation Serif','Times New Roman',serif" font-size="41" font-style="italic">sl</text>
<text y="1915.5" font-family="'Liberation Serif','Times New Roman',serif" font-size="57.5"><tspan x="1089.8">=</tspan><tspan x="1140.1">5.4</tspan><tspan x="1227.5">×</tspan><tspan x="1278.8">10</tspan><tspan x="1337.5" font-size="40" dy="-24.4">16</tspan><tspan x="1396.4" dy="24.4">W(m</tspan><tspan x="1511.3" font-size="40" dy="-24.4">−3</tspan><tspan x="1552.2" dy="24.4">K</tspan><tspan x="1596.3" font-size="40" dy="-24.4">−1</tspan><tspan x="1639.6" dy="24.4">)</tspan></text>
<text x="939" y="2007.5" font-family="'Liberation Serif','Times New Roman',serif" font-size="57.5" font-style="italic">G</text>
<text x="980.9" y="1982.5" font-family="'Liberation Serif','Times New Roman',serif" font-size="40" font-style="italic">FeMn</text>
<text x="978.9" y="2021.5" font-family="'Liberation Serif','Times New Roman',serif" font-size="41" font-style="italic">sl</text>
<text y="2007.5" font-family="'Liberation Serif','Times New Roman',serif" font-size="57.5"><tspan x="1089.8">=</tspan><tspan x="1140.1">5.4</tspan><tspan x="1227.5">×</tspan><tspan x="1278.8">10</tspan><tspan x="1337.5" font-size="40" dy="-24.4">17</tspan><tspan x="1396.4" dy="24.4">W(m</tspan><tspan x="1511.3" font-size="40" dy="-24.4">−3</tspan><tspan x="1552.2" dy="24.4">K</tspan><tspan x="1596.3" font-size="40" dy="-24.4">−1</tspan><tspan x="1639.6" dy="24.4">)</tspan></text>
<text x="939" y="2099.5" font-family="'Liberation Serif','Times New Roman',serif" font-size="57.5" font-style="italic">G</text>
<text x="980.9" y="2074.5" font-family="'Liberation Serif','Times New Roman',serif" font-size="40" font-style="italic">FeMn</text>
<text x="978.9" y="2113.5" font-family="'Liberation Serif','Times New Roman',serif" font-size="41" font-style="italic">sl</text>
<text y="2099.5" font-family="'Liberation Serif','Times New Roman',serif" font-size="57.5"><tspan x="1089.8">=</tspan><tspan x="1140.1">5.4</tspan><tspan x="1227.5">×</tspan><tspan x="1278.8">10</tspan><tspan x="1337.5" font-size="40" dy="-24.4">18</tspan><tspan x="1396.4" dy="24.4">W(m</tspan><tspan x="1511.3" font-size="40" dy="-24.4">−3</tspan><tspan x="1552.2" dy="24.4">K</tspan><tspan x="1596.3" font-size="40" dy="-24.4">−1</tspan><tspan x="1639.6" dy="24.4">)</tspan></text>
<path d="M243.5 2728.3L258.5 2728.3" fill="none" stroke="#000" stroke-width="7" stroke-linecap="round"/>
<path d="M266.3 2658.1L266.3 2683.6M266.5 2588.7L266.5 2614M266.8 2518.2L266.8 2543.5M267.2 2448.5L267.2 2472.2M268.4 2377.2L268.4 2402.5M268.6 2320.4L268.6 2331.1M269.3 2236.8L269.3 2261.4M272.2 2169.9L271.5 2191.7M289.1 2215L300.3 2235.8M322.3 2271.8L341.1 2289.9M387.9 2320.2L392.5 2331.3M411.6 2364.4L430.9 2381.3M476 2396.5L499.9 2399.9M547 2404L570.9 2407.1M615.5 2411.6L639.3 2413.7M686.4 2419.2L709.3 2421.3M757.4 2420.7L779.8 2422.8M825.9 2427.2L849.7 2429M894.3 2432.8L918.2 2434.6M964.5 2435.9L988.4 2438.1M1037 2439.4L1059.4 2440.2M1107.5 2443.4L1131.4 2444.2M1177.5 2447L1200.3 2448.3M1248.4 2449.5L1271.3 2451.3M1316.9 2454.1L1340.8 2454.9M1389.4 2456.1L1411.7 2456.9M1458.8 2458.6L1482.7 2459.4M1528.8 2461.5L1551.2 2462.1M1599.8 2464.7L1622.1 2465.5M1671.8 2464.1L1680.4 2464.5" fill="none" stroke="#000" stroke-width="7" stroke-linecap="round"/>
<rect x="266.6" y="2303.6" width="4.2" height="1.8" fill="#000"/>
<rect x="383.2" y="2303.6" width="4.2" height="1.8" fill="#000"/>
<polyline points="238.8,2728.3 257.4,2728.3 266,2728.3 272,2725.1 283.5,2711.8 297.7,2699.2 314.4,2688.8 332.9,2679.8 351,2674.5 370,2669.4 388.6,2665.6 425.9,2658.3 462.9,2651.7 500.4,2645.6 537.9,2639.5 575.4,2634.9 611.9,2629.4 649.9,2623.3 687.5,2619.2 725.5,2614.2 763,2610.1 800,2606.6 838,2601.5 876.1,2596.9 913.6,2592.9 951.6,2588.8 1000,2584 1100,2575 1200,2567 1300,2560 1400,2554 1500,2549 1600,2544 1664.7,2540.6" fill="none" stroke="#0000ff" stroke-width="7" stroke-linecap="round" stroke-linejoin="round" stroke-dasharray="0.01 18.8" stroke-dashoffset="0" />
<polyline points="238,2728.3 266.5,2728.3 266.9,2726.5 267.4,2724 267.9,2721.1 268.5,2718 269,2715.2 269.5,2712.4 270.1,2708.8 270.7,2703.8 271.3,2696.8 272,2688.2 272.8,2679.1 273.5,2670.2 274.3,2661.8 275.1,2653.4 276,2645 276.8,2636.6 277.6,2628 278.5,2619.1 279.4,2610.7 280.2,2603.1 281,2596.7 281.8,2591.2 282.6,2586 283.5,2580.7 284.4,2575.1 285.4,2569.5 286.4,2563.9 287.5,2558.3 288.6,2552.7 289.7,2547.1 290.8,2541.5 292,2535.9 293.2,2530.6 294.3,2525.4 295.6,2520 297,2513.6 298.7,2505.8 300.5,2496.9 302.4,2488 304.3,2480 306.1,2473.4 307.8,2467.5 309.5,2461.9 311.3,2456 313.1,2449.6 314.9,2443 316.7,2436.6 318.6,2430.7 320.6,2425.5 322.6,2420.8 324.8,2416.3 327.2,2411.7 329.9,2406.8 332.9,2401.7 336.1,2396.9 339.2,2392.7 342.3,2389.3 345.5,2386.5 348.7,2384.1 351.9,2381.9 355.1,2379.9 358.3,2378.3 361.6,2376.8 365,2375.5 368.7,2374.3 372.5,2373.2 376.3,2372.3 380,2371.5 383.5,2370.8 386.8,2370.2 390.1,2369.7 393.4,2369.3 396.8,2369 400.3,2368.9 403.8,2368.8 407.3,2368.8 410.8,2368.8 414.2,2368.9 417.7,2369.1 421.2,2369.3 424.4,2369.6 427.5,2369.9 430.9,2370.3 435.2,2370.7 440.7,2371.2 447,2371.6 453.6,2372.2 460,2372.8 464.3,2373.3 467.3,2373.8 472.7,2374.5 484.2,2375.8 504.1,2377.8 530.1,2380.5 558.4,2383.3 585.6,2386 611,2388.5 636.3,2391 661.7,2393.5 687,2396 712.4,2398.5 737.7,2401.1 763,2403.6 788.4,2406 814.5,2408.4 841,2410.7 866.6,2412.9 889.8,2415 907.6,2416.7 921.7,2418.2 937.4,2419.7 960,2421.5 992.3,2423.8 1030.9,2426.3 1072.2,2429 1112.1,2431.5 1150.1,2433.9 1188.1,2436.3 1226.2,2438.7 1264.2,2441 1302.2,2443.2 1340.2,2445.4 1378.3,2447.5 1416.3,2449.5 1455.2,2451.3 1494.7,2453 1533.1,2454.6 1568.4,2456 1602.3,2457.4 1634.9,2458.7 1662.8,2459.7 1682.4,2460.5" fill="none" stroke="#ff0000" stroke-width="7" stroke-linecap="butt" stroke-linejoin="round" />
<line x1="182.5" y1="2133" x2="182.5" y2="2770.5" stroke="#000" stroke-width="3" stroke-linecap="butt" />
<line x1="181" y1="2134.5" x2="1739" y2="2134.5" stroke="#000" stroke-width="3" stroke-linecap="butt" />
<line x1="181" y1="2769" x2="1739" y2="2769" stroke="#000" stroke-width="3" stroke-linecap="butt" />
<line x1="1738" y1="2133" x2="1738" y2="2770.5" stroke="#000" stroke-width="2.1" stroke-linecap="butt" />
<line x1="182.5" y1="2728" x2="198" y2="2728" stroke="#000" stroke-width="3" stroke-linecap="butt" />
<line x1="182.5" y1="2646.1" x2="198" y2="2646.1" stroke="#000" stroke-width="3" stroke-linecap="butt" />
<line x1="182.5" y1="2564.2" x2="198" y2="2564.2" stroke="#000" stroke-width="3" stroke-linecap="butt" />
<line x1="182.5" y1="2482.3" x2="198" y2="2482.3" stroke="#000" stroke-width="3" stroke-linecap="butt" />
<line x1="182.5" y1="2400.4" x2="198" y2="2400.4" stroke="#000" stroke-width="3" stroke-linecap="butt" />
<line x1="182.5" y1="2687.1" x2="190" y2="2687.1" stroke="#000" stroke-width="3" stroke-linecap="butt" />
<line x1="182.5" y1="2605.2" x2="190" y2="2605.2" stroke="#000" stroke-width="3" stroke-linecap="butt" />
<line x1="182.5" y1="2523.2" x2="190" y2="2523.2" stroke="#000" stroke-width="3" stroke-linecap="butt" />
<line x1="182.5" y1="2441.3" x2="190" y2="2441.3" stroke="#000" stroke-width="3" stroke-linecap="butt" />
<line x1="182.5" y1="2359.4" x2="190" y2="2359.4" stroke="#000" stroke-width="3" stroke-linecap="butt" />
<line x1="182.5" y1="2220.3" x2="198" y2="2220.3" stroke="#000" stroke-width="3" stroke-linecap="butt" />
<line x1="182.5" y1="2150.5" x2="198" y2="2150.5" stroke="#000" stroke-width="3" stroke-linecap="butt" />
<line x1="182.5" y1="2255.2" x2="190" y2="2255.2" stroke="#000" stroke-width="3" stroke-linecap="butt" />
<line x1="182.5" y1="2185.4" x2="190" y2="2185.4" stroke="#000" stroke-width="3" stroke-linecap="butt" />
<line x1="266.3" y1="2769" x2="266.3" y2="2752" stroke="#000" stroke-width="3" stroke-linecap="butt" />
<line x1="549.2" y1="2769" x2="549.2" y2="2752" stroke="#000" stroke-width="3" stroke-linecap="butt" />
<line x1="832.1" y1="2769" x2="832.1" y2="2752" stroke="#000" stroke-width="3" stroke-linecap="butt" />
<line x1="1115" y1="2769" x2="1115" y2="2752" stroke="#000" stroke-width="3" stroke-linecap="butt" />
<line x1="1397.9" y1="2769" x2="1397.9" y2="2752" stroke="#000" stroke-width="3" stroke-linecap="butt" />
<line x1="1680.8" y1="2769" x2="1680.8" y2="2752" stroke="#000" stroke-width="3" stroke-linecap="butt" />
<line x1="407.8" y1="2769" x2="407.8" y2="2760" stroke="#000" stroke-width="3" stroke-linecap="butt" />
<line x1="690.6" y1="2769" x2="690.6" y2="2760" stroke="#000" stroke-width="3" stroke-linecap="butt" />
<line x1="973.5" y1="2769" x2="973.5" y2="2760" stroke="#000" stroke-width="3" stroke-linecap="butt" />
<line x1="1256.5" y1="2769" x2="1256.5" y2="2760" stroke="#000" stroke-width="3" stroke-linecap="butt" />
<line x1="1539.3" y1="2769" x2="1539.3" y2="2760" stroke="#000" stroke-width="3" stroke-linecap="butt" />
<line x1="164.8" y1="2330.3" x2="197.4" y2="2284.8" stroke="#000" stroke-width="2.2" stroke-linecap="butt" />
<line x1="164.8" y1="2341.6" x2="197.4" y2="2294.8" stroke="#000" stroke-width="2.2" stroke-linecap="butt" />
<text x="162.5" y="2740.3" font-family="'Liberation Serif','Times New Roman',serif" font-size="44" text-anchor="end" fill="#000" >300</text>
<text x="162.5" y="2658.4" font-family="'Liberation Serif','Times New Roman',serif" font-size="44" text-anchor="end" fill="#000" >310</text>
<text x="162.5" y="2576.5" font-family="'Liberation Serif','Times New Roman',serif" font-size="44" text-anchor="end" fill="#000" >320</text>
<text x="162.5" y="2494.6" font-family="'Liberation Serif','Times New Roman',serif" font-size="44" text-anchor="end" fill="#000" >330</text>
<text x="162.5" y="2412.7" font-family="'Liberation Serif','Times New Roman',serif" font-size="44" text-anchor="end" fill="#000" >340</text>
<text x="162.5" y="2232.6" font-family="'Liberation Serif','Times New Roman',serif" font-size="44" text-anchor="end" fill="#000" >600</text>
<text x="162.5" y="2162.8" font-family="'Liberation Serif','Times New Roman',serif" font-size="44" text-anchor="end" fill="#000" >800</text>
<text x="162.5" y="2302.4" font-family="'Liberation Serif','Times New Roman',serif" font-size="44" text-anchor="end" fill="#000" >400</text>
<text x="266.3" y="2819.6" font-family="'Liberation Serif','Times New Roman',serif" font-size="44" text-anchor="middle" fill="#000" >0</text>
<text x="549.2" y="2819.6" font-family="'Liberation Serif','Times New Roman',serif" font-size="44" text-anchor="middle" fill="#000" >10</text>
<text x="832.1" y="2819.6" font-family="'Liberation Serif','Times New Roman',serif" font-size="44" text-anchor="middle" fill="#000" >20</text>
<text x="1115" y="2819.6" font-family="'Liberation Serif','Times New Roman',serif" font-size="44" text-anchor="middle" fill="#000" >30</text>
<text x="1397.9" y="2819.6" font-family="'Liberation Serif','Times New Roman',serif" font-size="44" text-anchor="middle" fill="#000" >40</text>
<text x="1680.8" y="2819.6" font-family="'Liberation Serif','Times New Roman',serif" font-size="44" text-anchor="middle" fill="#000" >50</text>
<text x="808.1" y="2884.2" font-family="'Liberation Serif','Times New Roman',serif" font-size="50.5" text-anchor="start" fill="#000" >Delaytime (ps)</text>
<text x="71.5" y="2434.7" font-family="'Liberation Serif','Times New Roman',serif" font-size="50.5" text-anchor="middle" fill="#000" transform="rotate(-90 71.5 2434.7)" >Temperature (K)</text>
<text x="203.3" y="2193.5" font-family="'Liberation Serif','Times New Roman',serif" font-size="50" text-anchor="start" fill="#000" >(d)</text>
<path d="M1056.6 2193.6L1081.3 2193.6M1126.8 2193.6L1151.4 2193.6" fill="none" stroke="#000" stroke-width="7" stroke-linecap="round"/>
<polyline points="1057.3,2280.6 1187.2,2280.6" fill="none" stroke="#ff0000" stroke-width="7" stroke-linecap="round" stroke-linejoin="round" />
<polyline points="1056.5,2378.4 1170.5,2378.4" fill="none" stroke="#0000ff" stroke-width="7" stroke-linecap="round" stroke-linejoin="round" stroke-dasharray="0.01 18.95" stroke-dashoffset="0" />
<text x="1201.5" y="2211.1" font-family="'Liberation Serif','Times New Roman',serif" font-size="51.5" font-style="italic">T<tspan dx="3" dy="15">e</tspan></text>
<text x="1200" y="2299.8" font-family="'Liberation Serif','Times New Roman',serif" font-size="51.5" font-style="italic">T<tspan dx="3" dy="15">s</tspan></text>
<text x="1199" y="2396.2" font-family="'Liberation Serif','Times New Roman',serif" font-size="51.5" font-style="italic">T<tspan dx="0" dy="13.6">l</tspan></text>
</svg></body></html>
